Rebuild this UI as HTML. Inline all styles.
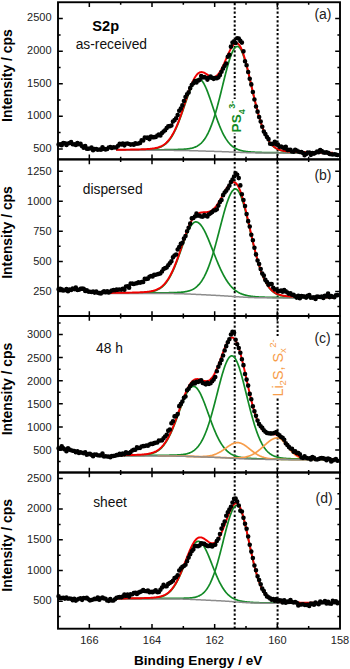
<!DOCTYPE html><html><head><meta charset="utf-8"><style>html,body{margin:0;padding:0;background:#fff;}svg{display:block;}text{font-family:"Liberation Sans",sans-serif;}</style></head><body>
<svg width="350" height="669" viewBox="0 0 350 669">
<rect width="350" height="669" fill="#fff"/>
<line x1="234.7" y1="3" x2="234.7" y2="628" stroke="#000" stroke-width="2" stroke-dasharray="2.2 2.1"/>
<line x1="277.6" y1="3" x2="277.6" y2="628" stroke="#000" stroke-width="2" stroke-dasharray="2.2 2.1"/>
<rect x="229" y="99" width="17" height="34.5" fill="#fff"/>
<rect x="268.5" y="336" width="19" height="62" fill="#fff"/>
<path d="M116,150.08 L116.5,150.07 L117,150.07 L117.5,150.07 L118,150.07 L118.5,150.07 L119,150.06 L119.5,150.06 L120,150.06 L120.5,150.06 L121,150.06 L121.5,150.05 L122,150.05 L122.5,150.05 L123,150.05 L123.5,150.05 L124,150.04 L124.5,150.04 L125,150.04 L125.5,150.04 L126,150.04 L126.5,150.03 L127,150.03 L127.5,150.03 L128,150.03 L128.5,150.02 L129,150.02 L129.5,150.02 L130,150.02 L130.5,150.01 L131,150.01 L131.5,150.01 L132,150.01 L132.5,150 L133,150 L133.5,150 L134,150 L134.5,149.99 L135,149.99 L135.5,149.99 L136,149.98 L136.5,149.98 L137,149.98 L137.5,149.98 L138,149.97 L138.5,149.97 L139,149.97 L139.5,149.96 L140,149.96 L140.5,149.96 L141,149.95 L141.5,149.95 L142,149.95 L142.5,149.94 L143,149.94 L143.5,149.94 L144,149.93 L144.5,149.93 L145,149.92 L145.5,149.92 L146,149.92 L146.5,149.91 L147,149.91 L147.5,149.9 L148,149.9 L148.5,149.9 L149,149.89 L149.5,149.89 L150,149.88 L150.5,149.88 L151,149.87 L151.5,149.87 L152,149.87 L152.5,149.86 L153,149.86 L153.5,149.85 L154,149.85 L154.5,149.84 L155,149.84 L155.5,149.83 L156,149.83 L156.5,149.82 L157,149.81 L157.5,149.81 L158,149.8 L158.5,149.8 L159,149.79 L159.5,149.79 L160,149.78 L160.5,149.77 L161,149.77 L161.5,149.76 L162,149.76 L162.5,149.75 L163,149.74 L163.5,149.74 L164,149.73 L164.5,149.72 L165,149.72 L165.5,149.71 L166,149.7 L166.5,149.7 L167,149.69 L167.5,149.68 L168,149.67 L168.5,149.67 L169,149.66 L169.5,149.65 L170,149.64 L170.5,149.63 L171,149.63 L171.5,149.62 L172,149.61 L172.5,149.6 L173,149.59 L173.5,149.58 L174,149.57 L174.5,149.56 L175,149.55 L175.5,149.54 L176,149.53 L176.5,149.51 L177,149.5 L177.5,149.49 L178,149.47 L178.5,149.46 L179,149.44 L179.5,149.43 L180,149.41 L180.5,149.39 L181,149.37 L181.5,149.35 L182,149.32 L182.5,149.3 L183,149.27 L183.5,149.24 L184,149.21 L184.5,149.17 L185,149.14 L185.5,149.09 L186,149.05 L186.5,149 L187,148.95 L187.5,148.89 L188,148.83 L188.5,148.76 L189,148.69 L189.5,148.61 L190,148.52 L190.5,148.42 L191,148.32 L191.5,148.21 L192,148.09 L192.5,147.95 L193,147.81 L193.5,147.66 L194,147.49 L194.5,147.31 L195,147.11 L195.5,146.9 L196,146.68 L196.5,146.43 L197,146.17 L197.5,145.89 L198,145.58 L198.5,145.26 L199,144.91 L199.5,144.54 L200,144.14 L200.5,143.72 L201,143.27 L201.5,142.79 L202,142.27 L202.5,141.73 L203,141.15 L203.5,140.54 L204,139.89 L204.5,139.21 L205,138.48 L205.5,137.72 L206,136.92 L206.5,136.07 L207,135.18 L207.5,134.25 L208,133.27 L208.5,132.25 L209,131.18 L209.5,130.07 L210,128.9 L210.5,127.69 L211,126.43 L211.5,125.12 L212,123.77 L212.5,122.37 L213,120.91 L213.5,119.41 L214,117.87 L214.5,116.28 L215,114.64 L215.5,112.96 L216,111.24 L216.5,109.48 L217,107.68 L217.5,105.85 L218,103.98 L218.5,102.08 L219,100.15 L219.5,98.19 L220,96.21 L220.5,94.21 L221,92.2 L221.5,90.17 L222,88.14 L222.5,86.1 L223,84.06 L223.5,82.03 L224,80 L224.5,77.99 L225,75.99 L225.5,74.02 L226,72.08 L226.5,70.17 L227,68.3 L227.5,66.47 L228,64.69 L228.5,62.97 L229,61.3 L229.5,59.7 L230,58.17 L230.5,56.71 L231,55.34 L231.5,54.04 L232,52.84 L232.5,51.73 L233,50.71 L233.5,49.8 L234,48.99 L234.5,48.29 L235,47.7 L235.5,47.22 L236,46.85 L236.5,46.61 L237,46.48 L237.5,46.46 L238,46.58 L238.5,46.82 L239,47.19 L239.5,47.68 L240,48.3 L240.5,49.05 L241,49.91 L241.5,50.88 L242,51.97 L242.5,53.17 L243,54.46 L243.5,55.86 L244,57.34 L244.5,58.92 L245,60.57 L245.5,62.3 L246,64.09 L246.5,65.95 L247,67.87 L247.5,69.84 L248,71.86 L248.5,73.91 L249,76 L249.5,78.11 L250,80.25 L250.5,82.4 L251,84.56 L251.5,86.73 L252,88.9 L252.5,91.06 L253,93.22 L253.5,95.36 L254,97.48 L254.5,99.58 L255,101.66 L255.5,103.71 L256,105.72 L256.5,107.7 L257,109.64 L257.5,111.53 L258,113.39 L258.5,115.2 L259,116.96 L259.5,118.68 L260,120.34 L260.5,121.95 L261,123.51 L261.5,125.02 L262,126.48 L262.5,127.88 L263,129.23 L263.5,130.53 L264,131.77 L264.5,132.96 L265,134.1 L265.5,135.19 L266,136.23 L266.5,137.21 L267,138.16 L267.5,139.05 L268,139.9 L268.5,140.7 L269,141.46 L269.5,142.18 L270,142.86 L270.5,143.5 L271,144.1 L271.5,144.67 L272,145.2 L272.5,145.7 L273,146.17 L273.5,146.61 L274,147.02 L274.5,147.41 L275,147.76 L275.5,148.1 L276,148.41 L276.5,148.7 L277,148.97 L277.5,149.22 L278,149.45 L278.5,149.67 L279,149.87 L279.5,150.06 L280,150.23 L280.5,150.39 L281,150.53 L281.5,150.67 L282,150.8 L282.5,150.91 L283,151.02 L283.5,151.12 L284,151.21 L284.5,151.3 L285,151.37 L285.5,151.45 L286,151.51 L286.5,151.58 L287,151.63 L287.5,151.69 L288,151.74 L288.5,151.78 L289,151.82 L289.5,151.86 L290,151.9 L290.5,151.94 L291,151.97 L291.5,152 L292,152.03 L292.5,152.05 L293,152.08 L293.5,152.1 L294,152.12 L294.5,152.14 L295,152.16 L295.5,152.18 L296,152.2 L296.5,152.22 L297,152.23 L297.5,152.25 L298,152.26 L298.5,152.28 L299,152.29 L299.5,152.31 L300,152.32 L300.5,152.33 L301,152.34 L301.5,152.36 L302,152.37 L302.5,152.38 L303,152.39 L303.5,152.4 L304,152.41 L304.5,152.42 L305,152.43 L305.5,152.44 L306,152.45 L306.5,152.46 L307,152.46 L307.5,152.47 L308,152.48 L308.5,152.49 L309,152.5 L309.5,152.5 L310,152.51 L310.5,152.52 L311,152.53 L311.5,152.53 L312,152.54 L312.5,152.55 L313,152.55 L313.5,152.56 L314,152.57 L314.5,152.57 L315,152.58 L315.5,152.59 L316,152.59 L316.5,152.6 L317,152.6 L317.5,152.61 L318,152.62 L318.5,152.62 L319,152.63 L319.5,152.63 L320,152.64 L320.5,152.64 L321,152.65 L321.5,152.65 L322,152.66 L322.5,152.66 L323,152.67 L323.5,152.67 L324,152.68 L324.5,152.68 L325,152.69 L325.5,152.69 L326,152.69 L326.5,152.7 L327,152.7 L327.5,152.71 L328,152.71 L328.5,152.72 L329,152.72 L329.5,152.72 L330,152.73 L330.5,152.73 L331,152.73 L331.5,152.74 L332,152.74 L332.5,152.74 L333,152.75" fill="none" stroke="#128a26" stroke-width="1.7" stroke-linejoin="round"/>
<path d="M116,150.01 L116.5,150 L117,150 L117.5,150 L118,149.99 L118.5,149.99 L119,149.99 L119.5,149.98 L120,149.98 L120.5,149.98 L121,149.97 L121.5,149.97 L122,149.96 L122.5,149.96 L123,149.95 L123.5,149.95 L124,149.95 L124.5,149.94 L125,149.94 L125.5,149.93 L126,149.93 L126.5,149.92 L127,149.92 L127.5,149.91 L128,149.91 L128.5,149.9 L129,149.9 L129.5,149.89 L130,149.88 L130.5,149.88 L131,149.87 L131.5,149.87 L132,149.86 L132.5,149.85 L133,149.85 L133.5,149.84 L134,149.83 L134.5,149.83 L135,149.82 L135.5,149.81 L136,149.8 L136.5,149.8 L137,149.79 L137.5,149.78 L138,149.77 L138.5,149.76 L139,149.75 L139.5,149.74 L140,149.73 L140.5,149.72 L141,149.7 L141.5,149.69 L142,149.68 L142.5,149.66 L143,149.65 L143.5,149.63 L144,149.62 L144.5,149.6 L145,149.58 L145.5,149.56 L146,149.54 L146.5,149.51 L147,149.49 L147.5,149.46 L148,149.43 L148.5,149.4 L149,149.36 L149.5,149.33 L150,149.29 L150.5,149.24 L151,149.2 L151.5,149.15 L152,149.09 L152.5,149.03 L153,148.97 L153.5,148.9 L154,148.83 L154.5,148.74 L155,148.66 L155.5,148.56 L156,148.46 L156.5,148.35 L157,148.23 L157.5,148.09 L158,147.95 L158.5,147.8 L159,147.64 L159.5,147.46 L160,147.27 L160.5,147.07 L161,146.85 L161.5,146.61 L162,146.36 L162.5,146.09 L163,145.8 L163.5,145.49 L164,145.16 L164.5,144.81 L165,144.44 L165.5,144.04 L166,143.61 L166.5,143.16 L167,142.69 L167.5,142.18 L168,141.65 L168.5,141.08 L169,140.49 L169.5,139.86 L170,139.2 L170.5,138.51 L171,137.78 L171.5,137.02 L172,136.22 L172.5,135.38 L173,134.52 L173.5,133.61 L174,132.67 L174.5,131.69 L175,130.68 L175.5,129.62 L176,128.54 L176.5,127.42 L177,126.26 L177.5,125.07 L178,123.85 L178.5,122.6 L179,121.31 L179.5,120 L180,118.67 L180.5,117.3 L181,115.92 L181.5,114.51 L182,113.09 L182.5,111.65 L183,110.2 L183.5,108.74 L184,107.27 L184.5,105.8 L185,104.33 L185.5,102.86 L186,101.4 L186.5,99.95 L187,98.52 L187.5,97.11 L188,95.71 L188.5,94.35 L189,93.01 L189.5,91.71 L190,90.45 L190.5,89.24 L191,88.07 L191.5,86.95 L192,85.89 L192.5,84.89 L193,83.95 L193.5,83.08 L194,82.29 L194.5,81.56 L195,80.91 L195.5,80.34 L196,79.86 L196.5,79.45 L197,79.14 L197.5,78.91 L198,78.77 L198.5,78.72 L199,78.76 L199.5,78.89 L200,79.11 L200.5,79.41 L201,79.81 L201.5,80.29 L202,80.85 L202.5,81.49 L203,82.21 L203.5,83.01 L204,83.88 L204.5,84.82 L205,85.82 L205.5,86.89 L206,88.01 L206.5,89.18 L207,90.41 L207.5,91.68 L208,92.99 L208.5,94.34 L209,95.72 L209.5,97.13 L210,98.56 L210.5,100.02 L211,101.49 L211.5,102.97 L212,104.46 L212.5,105.96 L213,107.46 L213.5,108.95 L214,110.44 L214.5,111.93 L215,113.4 L215.5,114.85 L216,116.29 L216.5,117.71 L217,119.11 L217.5,120.48 L218,121.83 L218.5,123.14 L219,124.43 L219.5,125.69 L220,126.92 L220.5,128.11 L221,129.27 L221.5,130.39 L222,131.48 L222.5,132.54 L223,133.55 L223.5,134.53 L224,135.48 L224.5,136.38 L225,137.25 L225.5,138.09 L226,138.89 L226.5,139.65 L227,140.38 L227.5,141.08 L228,141.74 L228.5,142.37 L229,142.97 L229.5,143.54 L230,144.08 L230.5,144.59 L231,145.08 L231.5,145.54 L232,145.97 L232.5,146.37 L233,146.76 L233.5,147.12 L234,147.46 L234.5,147.78 L235,148.08 L235.5,148.37 L236,148.63 L236.5,148.88 L237,149.11 L237.5,149.33 L238,149.53 L238.5,149.72 L239,149.9 L239.5,150.07 L240,150.23 L240.5,150.37 L241,150.51 L241.5,150.64 L242,150.76 L242.5,150.87 L243,150.97 L243.5,151.07 L244,151.16 L244.5,151.25 L245,151.33 L245.5,151.41 L246,151.48 L246.5,151.54 L247,151.6 L247.5,151.66 L248,151.72 L248.5,151.77 L249,151.82 L249.5,151.86 L250,151.91 L250.5,151.95 L251,151.99 L251.5,152.02 L252,152.06 L252.5,152.09 L253,152.12 L253.5,152.15 L254,152.18 L254.5,152.21 L255,152.23 L255.5,152.26 L256,152.28 L256.5,152.3 L257,152.32 L257.5,152.34 L258,152.36 L258.5,152.38 L259,152.4 L259.5,152.41 L260,152.43 L260.5,152.44 L261,152.46 L261.5,152.47 L262,152.49 L262.5,152.5 L263,152.51 L263.5,152.52 L264,152.53 L264.5,152.55 L265,152.56 L265.5,152.57 L266,152.58 L266.5,152.59 L267,152.6 L267.5,152.6 L268,152.61 L268.5,152.62 L269,152.63 L269.5,152.64 L270,152.64 L270.5,152.65 L271,152.66 L271.5,152.67 L272,152.67 L272.5,152.68 L273,152.68 L273.5,152.69 L274,152.7 L274.5,152.7 L275,152.71 L275.5,152.71 L276,152.72 L276.5,152.72 L277,152.73 L277.5,152.73 L278,152.74 L278.5,152.74 L279,152.75 L279.5,152.75 L280,152.75 L280.5,152.76 L281,152.76 L281.5,152.77 L282,152.77 L282.5,152.77 L283,152.78 L283.5,152.78 L284,152.79 L284.5,152.79 L285,152.79 L285.5,152.8 L286,152.8 L286.5,152.8 L287,152.81 L287.5,152.81 L288,152.81 L288.5,152.81 L289,152.82 L289.5,152.82 L290,152.82 L290.5,152.83 L291,152.83 L291.5,152.83 L292,152.83 L292.5,152.84 L293,152.84 L293.5,152.84 L294,152.84 L294.5,152.85 L295,152.85 L295.5,152.85 L296,152.85 L296.5,152.86 L297,152.86 L297.5,152.86 L298,152.86 L298.5,152.87 L299,152.87 L299.5,152.87 L300,152.87 L300.5,152.87 L301,152.88 L301.5,152.88 L302,152.88 L302.5,152.88 L303,152.88 L303.5,152.89 L304,152.89 L304.5,152.89 L305,152.89 L305.5,152.89 L306,152.9 L306.5,152.9 L307,152.9 L307.5,152.9 L308,152.9 L308.5,152.9 L309,152.91 L309.5,152.91 L310,152.91 L310.5,152.91 L311,152.91 L311.5,152.91 L312,152.92 L312.5,152.92 L313,152.92 L313.5,152.92 L314,152.92 L314.5,152.92 L315,152.92 L315.5,152.93 L316,152.93 L316.5,152.93 L317,152.93 L317.5,152.93 L318,152.93 L318.5,152.93 L319,152.93 L319.5,152.94 L320,152.94 L320.5,152.94 L321,152.94 L321.5,152.94 L322,152.94 L322.5,152.94 L323,152.94 L323.5,152.95 L324,152.95 L324.5,152.95 L325,152.95 L325.5,152.95 L326,152.95 L326.5,152.95 L327,152.95 L327.5,152.95 L328,152.96 L328.5,152.96 L329,152.96 L329.5,152.96 L330,152.96 L330.5,152.96 L331,152.96 L331.5,152.96 L332,152.96 L332.5,152.96 L333,152.97" fill="none" stroke="#128a26" stroke-width="1.7" stroke-linejoin="round"/>
<path d="M116,150.3 L116.5,150.3 L117,150.3 L117.5,150.3 L118,150.3 L118.5,150.3 L119,150.3 L119.5,150.3 L120,150.3 L120.5,150.3 L121,150.3 L121.5,150.3 L122,150.3 L122.5,150.3 L123,150.3 L123.5,150.3 L124,150.3 L124.5,150.31 L125,150.31 L125.5,150.31 L126,150.31 L126.5,150.31 L127,150.31 L127.5,150.31 L128,150.31 L128.5,150.31 L129,150.31 L129.5,150.31 L130,150.31 L130.5,150.31 L131,150.31 L131.5,150.31 L132,150.31 L132.5,150.31 L133,150.31 L133.5,150.31 L134,150.31 L134.5,150.31 L135,150.31 L135.5,150.31 L136,150.31 L136.5,150.31 L137,150.31 L137.5,150.31 L138,150.31 L138.5,150.31 L139,150.31 L139.5,150.31 L140,150.31 L140.5,150.31 L141,150.31 L141.5,150.31 L142,150.31 L142.5,150.31 L143,150.31 L143.5,150.31 L144,150.31 L144.5,150.31 L145,150.31 L145.5,150.31 L146,150.31 L146.5,150.31 L147,150.31 L147.5,150.31 L148,150.31 L148.5,150.31 L149,150.31 L149.5,150.31 L150,150.31 L150.5,150.31 L151,150.32 L151.5,150.32 L152,150.32 L152.5,150.32 L153,150.32 L153.5,150.32 L154,150.32 L154.5,150.32 L155,150.32 L155.5,150.32 L156,150.32 L156.5,150.32 L157,150.32 L157.5,150.32 L158,150.32 L158.5,150.32 L159,150.32 L159.5,150.32 L160,150.32 L160.5,150.32 L161,150.33 L161.5,150.33 L162,150.33 L162.5,150.33 L163,150.33 L163.5,150.33 L164,150.33 L164.5,150.33 L165,150.33 L165.5,150.34 L166,150.34 L166.5,150.34 L167,150.34 L167.5,150.34 L168,150.34 L168.5,150.35 L169,150.35 L169.5,150.35 L170,150.35 L170.5,150.36 L171,150.36 L171.5,150.36 L172,150.36 L172.5,150.37 L173,150.37 L173.5,150.37 L174,150.38 L174.5,150.38 L175,150.39 L175.5,150.39 L176,150.4 L176.5,150.4 L177,150.41 L177.5,150.41 L178,150.42 L178.5,150.42 L179,150.43 L179.5,150.43 L180,150.44 L180.5,150.45 L181,150.46 L181.5,150.46 L182,150.47 L182.5,150.48 L183,150.49 L183.5,150.5 L184,150.51 L184.5,150.51 L185,150.52 L185.5,150.53 L186,150.54 L186.5,150.55 L187,150.57 L187.5,150.58 L188,150.59 L188.5,150.6 L189,150.61 L189.5,150.63 L190,150.64 L190.5,150.65 L191,150.66 L191.5,150.68 L192,150.69 L192.5,150.71 L193,150.72 L193.5,150.73 L194,150.75 L194.5,150.76 L195,150.78 L195.5,150.79 L196,150.81 L196.5,150.82 L197,150.84 L197.5,150.86 L198,150.87 L198.5,150.89 L199,150.9 L199.5,150.92 L200,150.94 L200.5,150.95 L201,150.97 L201.5,150.98 L202,151 L202.5,151.02 L203,151.03 L203.5,151.05 L204,151.06 L204.5,151.08 L205,151.1 L205.5,151.11 L206,151.13 L206.5,151.14 L207,151.16 L207.5,151.17 L208,151.19 L208.5,151.21 L209,151.22 L209.5,151.24 L210,151.25 L210.5,151.27 L211,151.28 L211.5,151.3 L212,151.31 L212.5,151.33 L213,151.34 L213.5,151.36 L214,151.37 L214.5,151.39 L215,151.4 L215.5,151.42 L216,151.43 L216.5,151.45 L217,151.47 L217.5,151.48 L218,151.5 L218.5,151.51 L219,151.53 L219.5,151.54 L220,151.56 L220.5,151.58 L221,151.59 L221.5,151.61 L222,151.63 L222.5,151.65 L223,151.66 L223.5,151.68 L224,151.7 L224.5,151.72 L225,151.74 L225.5,151.75 L226,151.77 L226.5,151.79 L227,151.81 L227.5,151.83 L228,151.85 L228.5,151.87 L229,151.89 L229.5,151.91 L230,151.93 L230.5,151.95 L231,151.97 L231.5,152 L232,152.02 L232.5,152.04 L233,152.06 L233.5,152.08 L234,152.1 L234.5,152.13 L235,152.15 L235.5,152.17 L236,152.19 L236.5,152.22 L237,152.24 L237.5,152.26 L238,152.28 L238.5,152.3 L239,152.33 L239.5,152.35 L240,152.37 L240.5,152.39 L241,152.41 L241.5,152.43 L242,152.45 L242.5,152.47 L243,152.5 L243.5,152.52 L244,152.54 L244.5,152.55 L245,152.57 L245.5,152.59 L246,152.61 L246.5,152.63 L247,152.65 L247.5,152.66 L248,152.68 L248.5,152.7 L249,152.71 L249.5,152.73 L250,152.74 L250.5,152.76 L251,152.77 L251.5,152.79 L252,152.8 L252.5,152.81 L253,152.82 L253.5,152.84 L254,152.85 L254.5,152.86 L255,152.87 L255.5,152.88 L256,152.89 L256.5,152.9 L257,152.91 L257.5,152.92 L258,152.92 L258.5,152.93 L259,152.94 L259.5,152.95 L260,152.95 L260.5,152.96 L261,152.97 L261.5,152.97 L262,152.98 L262.5,152.98 L263,152.99 L263.5,152.99 L264,153 L264.5,153 L265,153 L265.5,153.01 L266,153.01 L266.5,153.02 L267,153.02 L267.5,153.02 L268,153.02 L268.5,153.03 L269,153.03 L269.5,153.03 L270,153.03 L270.5,153.04 L271,153.04 L271.5,153.04 L272,153.04 L272.5,153.04 L273,153.04 L273.5,153.05 L274,153.05 L274.5,153.05 L275,153.05 L275.5,153.05 L276,153.05 L276.5,153.05 L277,153.05 L277.5,153.05 L278,153.06 L278.5,153.06 L279,153.06 L279.5,153.06 L280,153.06 L280.5,153.06 L281,153.06 L281.5,153.06 L282,153.06 L282.5,153.06 L283,153.06 L283.5,153.06 L284,153.06 L284.5,153.06 L285,153.06 L285.5,153.06 L286,153.06 L286.5,153.06 L287,153.06 L287.5,153.06 L288,153.07 L288.5,153.07 L289,153.07 L289.5,153.07 L290,153.07 L290.5,153.07 L291,153.07 L291.5,153.07 L292,153.07 L292.5,153.07 L293,153.07 L293.5,153.07 L294,153.07 L294.5,153.07 L295,153.07 L295.5,153.07 L296,153.07 L296.5,153.07 L297,153.07 L297.5,153.07 L298,153.07 L298.5,153.07 L299,153.07 L299.5,153.07 L300,153.07 L300.5,153.07 L301,153.07 L301.5,153.07 L302,153.07 L302.5,153.07 L303,153.07 L303.5,153.07 L304,153.07 L304.5,153.07 L305,153.07 L305.5,153.07 L306,153.07 L306.5,153.07 L307,153.07 L307.5,153.07 L308,153.07 L308.5,153.07 L309,153.07 L309.5,153.07 L310,153.07 L310.5,153.07 L311,153.07 L311.5,153.07 L312,153.07 L312.5,153.08 L313,153.08 L313.5,153.08 L314,153.08 L314.5,153.08 L315,153.08 L315.5,153.08 L316,153.08 L316.5,153.08 L317,153.08 L317.5,153.08 L318,153.08 L318.5,153.08 L319,153.08 L319.5,153.08 L320,153.08 L320.5,153.08 L321,153.08 L321.5,153.08 L322,153.08 L322.5,153.08 L323,153.08 L323.5,153.08 L324,153.08 L324.5,153.08 L325,153.08 L325.5,153.08 L326,153.08 L326.5,153.08 L327,153.08 L327.5,153.08 L328,153.08 L328.5,153.08 L329,153.08 L329.5,153.08 L330,153.08 L330.5,153.08 L331,153.08 L331.5,153.08 L332,153.08 L332.5,153.08 L333,153.08" fill="none" stroke="#8c8c8c" stroke-width="1.5"/>
<path d="M116,149.78 L116.5,149.77 L117,149.77 L117.5,149.76 L118,149.76 L118.5,149.75 L119,149.75 L119.5,149.74 L120,149.74 L120.5,149.73 L121,149.72 L121.5,149.72 L122,149.71 L122.5,149.7 L123,149.7 L123.5,149.69 L124,149.69 L124.5,149.68 L125,149.67 L125.5,149.66 L126,149.66 L126.5,149.65 L127,149.64 L127.5,149.64 L128,149.63 L128.5,149.62 L129,149.61 L129.5,149.6 L130,149.6 L130.5,149.59 L131,149.58 L131.5,149.57 L132,149.56 L132.5,149.55 L133,149.54 L133.5,149.53 L134,149.52 L134.5,149.51 L135,149.5 L135.5,149.49 L136,149.48 L136.5,149.47 L137,149.46 L137.5,149.44 L138,149.43 L138.5,149.42 L139,149.41 L139.5,149.39 L140,149.38 L140.5,149.36 L141,149.35 L141.5,149.33 L142,149.31 L142.5,149.3 L143,149.28 L143.5,149.26 L144,149.24 L144.5,149.21 L145,149.19 L145.5,149.17 L146,149.14 L146.5,149.11 L147,149.08 L147.5,149.05 L148,149.02 L148.5,148.98 L149,148.94 L149.5,148.9 L150,148.86 L150.5,148.81 L151,148.76 L151.5,148.7 L152,148.64 L152.5,148.58 L153,148.51 L153.5,148.43 L154,148.35 L154.5,148.27 L155,148.17 L155.5,148.07 L156,147.96 L156.5,147.85 L157,147.72 L157.5,147.58 L158,147.44 L158.5,147.28 L159,147.11 L159.5,146.93 L160,146.73 L160.5,146.52 L161,146.29 L161.5,146.05 L162,145.79 L162.5,145.51 L163,145.22 L163.5,144.9 L164,144.56 L164.5,144.2 L165,143.82 L165.5,143.41 L166,142.98 L166.5,142.52 L167,142.03 L167.5,141.52 L168,140.98 L168.5,140.4 L169,139.8 L169.5,139.16 L170,138.49 L170.5,137.78 L171,137.04 L171.5,136.27 L172,135.46 L172.5,134.62 L173,133.73 L173.5,132.82 L174,131.86 L174.5,130.87 L175,129.84 L175.5,128.77 L176,127.67 L176.5,126.53 L177,125.36 L177.5,124.15 L178,122.91 L178.5,121.64 L179,120.33 L179.5,119 L180,117.63 L180.5,116.25 L181,114.83 L181.5,113.4 L182,111.94 L182.5,110.47 L183,108.98 L183.5,107.48 L184,105.97 L184.5,104.46 L185,102.94 L185.5,101.42 L186,99.91 L186.5,98.4 L187,96.9 L187.5,95.42 L188,93.95 L188.5,92.51 L189,91.09 L189.5,89.69 L190,88.33 L190.5,87.01 L191,85.73 L191.5,84.48 L192,83.29 L192.5,82.14 L193,81.05 L193.5,80.01 L194,79.03 L194.5,78.11 L195,77.25 L195.5,76.45 L196,75.72 L196.5,75.06 L197,74.47 L197.5,73.94 L198,73.48 L198.5,73.09 L199,72.77 L199.5,72.51 L200,72.31 L200.5,72.18 L201,72.11 L201.5,72.09 L202,72.12 L202.5,72.2 L203,72.33 L203.5,72.5 L204,72.71 L204.5,72.94 L205,73.21 L205.5,73.49 L206,73.8 L206.5,74.11 L207,74.43 L207.5,74.75 L208,75.07 L208.5,75.38 L209,75.68 L209.5,75.96 L210,76.21 L210.5,76.44 L211,76.64 L211.5,76.8 L212,76.92 L212.5,77 L213,77.03 L213.5,77.01 L214,76.94 L214.5,76.82 L215,76.64 L215.5,76.4 L216,76.1 L216.5,75.74 L217,75.32 L217.5,74.85 L218,74.31 L218.5,73.71 L219,73.05 L219.5,72.34 L220,71.57 L220.5,70.75 L221,69.88 L221.5,68.96 L222,67.99 L222.5,66.99 L223,65.95 L223.5,64.88 L224,63.78 L224.5,62.65 L225,61.51 L225.5,60.36 L226,59.19 L226.5,58.03 L227,56.87 L227.5,55.72 L228,54.58 L228.5,53.47 L229,52.38 L229.5,51.33 L230,50.32 L230.5,49.35 L231,48.44 L231.5,47.58 L232,46.79 L232.5,46.06 L233,45.41 L233.5,44.84 L234,44.35 L234.5,43.94 L235,43.63 L235.5,43.41 L236,43.29 L236.5,43.27 L237,43.35 L237.5,43.53 L238,43.83 L238.5,44.24 L239,44.76 L239.5,45.41 L240,46.16 L240.5,47.03 L241,48.01 L241.5,49.09 L242,50.28 L242.5,51.56 L243,52.94 L243.5,54.41 L244,55.97 L244.5,57.61 L245,59.33 L245.5,61.11 L246,62.96 L246.5,64.87 L247,66.83 L247.5,68.84 L248,70.89 L248.5,72.98 L249,75.1 L249.5,77.25 L250,79.41 L250.5,81.59 L251,83.78 L251.5,85.97 L252,88.16 L252.5,90.34 L253,92.52 L253.5,94.67 L254,96.81 L254.5,98.93 L255,101.02 L255.5,103.08 L256,105.11 L256.5,107.1 L257,109.05 L257.5,110.96 L258,112.83 L258.5,114.65 L259,116.42 L259.5,118.14 L260,119.82 L260.5,121.44 L261,123.01 L261.5,124.52 L262,125.99 L262.5,127.4 L263,128.75 L263.5,130.06 L264,131.31 L264.5,132.51 L265,133.65 L265.5,134.75 L266,135.79 L266.5,136.79 L267,137.73 L267.5,138.63 L268,139.49 L268.5,140.3 L269,141.06 L269.5,141.79 L270,142.47 L270.5,143.12 L271,143.72 L271.5,144.3 L272,144.83 L272.5,145.34 L273,145.81 L273.5,146.26 L274,146.67 L274.5,147.06 L275,147.42 L275.5,147.76 L276,148.08 L276.5,148.37 L277,148.64 L277.5,148.9 L278,149.14 L278.5,149.36 L279,149.56 L279.5,149.75 L280,149.92 L280.5,150.09 L281,150.24 L281.5,150.38 L282,150.51 L282.5,150.63 L283,150.74 L283.5,150.84 L284,150.93 L284.5,151.02 L285,151.1 L285.5,151.18 L286,151.25 L286.5,151.31 L287,151.37 L287.5,151.43 L288,151.48 L288.5,151.53 L289,151.58 L289.5,151.62 L290,151.66 L290.5,151.7 L291,151.73 L291.5,151.76 L292,151.79 L292.5,151.82 L293,151.85 L293.5,151.88 L294,151.9 L294.5,151.92 L295,151.94 L295.5,151.97 L296,151.99 L296.5,152.01 L297,152.02 L297.5,152.04 L298,152.06 L298.5,152.08 L299,152.09 L299.5,152.11 L300,152.12 L300.5,152.14 L301,152.15 L301.5,152.16 L302,152.18 L302.5,152.19 L303,152.2 L303.5,152.21 L304,152.22 L304.5,152.24 L305,152.25 L305.5,152.26 L306,152.27 L306.5,152.28 L307,152.29 L307.5,152.3 L308,152.31 L308.5,152.32 L309,152.33 L309.5,152.34 L310,152.35 L310.5,152.36 L311,152.36 L311.5,152.37 L312,152.38 L312.5,152.39 L313,152.4 L313.5,152.41 L314,152.41 L314.5,152.42 L315,152.43 L315.5,152.44 L316,152.44 L316.5,152.45 L317,152.46 L317.5,152.47 L318,152.47 L318.5,152.48 L319,152.49 L319.5,152.49 L320,152.5 L320.5,152.5 L321,152.51 L321.5,152.52 L322,152.52 L322.5,152.53 L323,152.53 L323.5,152.54 L324,152.55 L324.5,152.55 L325,152.56 L325.5,152.56 L326,152.57 L326.5,152.57 L327,152.58 L327.5,152.58 L328,152.59 L328.5,152.59 L329,152.6 L329.5,152.6 L330,152.61 L330.5,152.61 L331,152.62 L331.5,152.62 L332,152.63 L332.5,152.63 L333,152.63" fill="none" stroke="#f00000" stroke-width="1.95" stroke-linejoin="round"/>
<path d="M58.6,144.48h0M60.17,144.39h0M61.73,145.17h0M63.3,143.15h0M64.87,143.21h0M66.43,145h0M68,143.62h0M69.57,143.05h0M71.13,142.17h0M72.7,144.21h0M74.27,144.33h0M75.83,144.98h0M77.4,143.16h0M78.97,144.18h0M80.53,143.85h0M82.1,146.28h0M83.67,147.65h0M85.23,145.95h0M86.8,148.66h0M88.37,148.77h0M89.93,148.46h0M91.5,147.43h0M93.07,150.17h0M94.63,149.08h0M96.2,149.08h0M97.77,149.68h0M99.33,149.51h0M100.9,149.66h0M102.47,147.27h0M104.03,148.87h0M105.6,149.44h0M107.17,149.06h0M108.73,147.5h0M110.3,146.96h0M111.87,147.93h0M113.43,147.28h0M115,147.53h0M116.57,147.33h0M118.13,145.75h0M119.7,143.72h0M121.27,144.56h0M122.83,143.6h0M124.4,145.36h0M125.97,143.82h0M127.53,143.55h0M129.1,143.97h0M130.67,144.58h0M132.23,144.22h0M133.8,144.76h0M135.37,143.24h0M136.93,143.7h0M138.5,143.57h0M140.07,142.92h0M141.63,140.3h0M143.2,140.44h0M144.77,137.59h0M146.33,137.78h0M147.9,137.63h0M149.47,139.09h0M151.03,136.57h0M152.6,137.16h0M154.17,137.13h0M155.73,137.05h0M157.3,135.59h0M158.87,134.45h0M160.43,135.4h0M162,132.94h0M163.57,131.5h0M165.13,130.24h0M166.7,128.04h0M168.27,126.31h0M169.83,126.17h0M171.4,125.5h0M172.97,121.49h0M174.53,120.13h0M176.1,118.31h0M177.67,115.02h0M179.23,110.73h0M180.8,108.65h0M182.37,105.38h0M183.93,101.05h0M185.5,97.03h0M187.07,94.22h0M188.63,92.4h0M190.2,88.15h0M191.77,85.05h0M193.33,83.36h0M194.9,81.03h0M196.47,82.49h0M198.03,80.69h0M199.6,79.87h0M201.17,75.95h0M202.73,77.44h0M204.3,77.16h0M205.87,77.68h0M207.43,79.61h0M209,77.78h0M210.57,76.43h0M212.13,77.91h0M213.7,78.87h0M215.27,78.02h0M216.83,78.23h0M218.4,77.37h0M219.97,75.11h0M221.53,71.73h0M223.1,68.61h0M224.67,65.87h0M226.23,63.56h0M227.8,56.78h0M229.37,54.86h0M230.93,46.65h0M232.5,42.46h0M234.07,41.41h0M235.63,43.05h0M237.2,38.31h0M238.77,38.54h0M240.33,40.92h0M241.9,42.61h0M243.47,51.34h0M245.03,61.22h0M246.6,65.18h0M248.17,71.98h0M249.73,78.82h0M251.3,84.38h0M252.87,92h0M254.43,99.43h0M256,106.46h0M257.57,111.67h0M259.13,116.94h0M260.7,121.47h0M262.27,126.71h0M263.83,131.61h0M265.4,134.15h0M266.97,137.05h0M268.53,139.15h0M270.1,143.77h0M271.67,144.03h0M273.23,143.79h0M274.8,141.82h0M276.37,144.56h0M277.93,144.56h0M279.5,146.85h0M281.07,146.52h0M282.63,147.28h0M284.2,148.31h0M285.77,146.72h0M287.33,149.84h0M288.9,149.78h0M290.47,149.68h0M292.03,151.44h0M293.6,151.63h0M295.17,149.73h0M296.73,150.49h0M298.3,151.52h0M299.87,152h0M301.43,152.04h0M303,152.98h0M304.57,155.24h0M306.13,154.04h0M307.7,152.46h0M309.27,152.46h0M310.83,154.84h0M312.4,153.15h0M313.97,153.61h0M315.53,152.79h0M317.1,151.65h0M318.67,152.13h0M320.23,149.99h0M321.8,151.1h0M323.37,152.38h0M324.93,152.66h0M326.5,152.42h0M328.07,152.89h0M329.63,153.89h0M331.2,154.29h0M332.77,154.54h0M334.33,154.23h0M335.9,154.6h0M337.47,155h0" stroke="#000" stroke-width="4.6" stroke-linecap="round" fill="none"/>
<path d="M102,293.24 L102.5,293.24 L103,293.24 L103.5,293.24 L104,293.24 L104.5,293.24 L105,293.23 L105.5,293.23 L106,293.23 L106.5,293.23 L107,293.23 L107.5,293.23 L108,293.22 L108.5,293.22 L109,293.22 L109.5,293.22 L110,293.22 L110.5,293.22 L111,293.21 L111.5,293.21 L112,293.21 L112.5,293.21 L113,293.21 L113.5,293.2 L114,293.2 L114.5,293.2 L115,293.2 L115.5,293.2 L116,293.2 L116.5,293.19 L117,293.19 L117.5,293.19 L118,293.19 L118.5,293.18 L119,293.18 L119.5,293.18 L120,293.18 L120.5,293.18 L121,293.17 L121.5,293.17 L122,293.17 L122.5,293.17 L123,293.16 L123.5,293.16 L124,293.16 L124.5,293.16 L125,293.15 L125.5,293.15 L126,293.15 L126.5,293.15 L127,293.14 L127.5,293.14 L128,293.14 L128.5,293.14 L129,293.13 L129.5,293.13 L130,293.13 L130.5,293.12 L131,293.12 L131.5,293.12 L132,293.12 L132.5,293.11 L133,293.11 L133.5,293.11 L134,293.1 L134.5,293.1 L135,293.1 L135.5,293.09 L136,293.09 L136.5,293.09 L137,293.08 L137.5,293.08 L138,293.08 L138.5,293.07 L139,293.07 L139.5,293.06 L140,293.06 L140.5,293.06 L141,293.05 L141.5,293.05 L142,293.04 L142.5,293.04 L143,293.04 L143.5,293.03 L144,293.03 L144.5,293.02 L145,293.02 L145.5,293.01 L146,293.01 L146.5,293.01 L147,293 L147.5,293 L148,292.99 L148.5,292.99 L149,292.98 L149.5,292.98 L150,292.97 L150.5,292.97 L151,292.96 L151.5,292.96 L152,292.95 L152.5,292.94 L153,292.94 L153.5,292.93 L154,292.93 L154.5,292.92 L155,292.92 L155.5,292.91 L156,292.9 L156.5,292.9 L157,292.89 L157.5,292.89 L158,292.88 L158.5,292.87 L159,292.87 L159.5,292.86 L160,292.85 L160.5,292.85 L161,292.84 L161.5,292.83 L162,292.83 L162.5,292.82 L163,292.81 L163.5,292.81 L164,292.8 L164.5,292.79 L165,292.78 L165.5,292.78 L166,292.77 L166.5,292.76 L167,292.75 L167.5,292.74 L168,292.73 L168.5,292.73 L169,292.72 L169.5,292.71 L170,292.7 L170.5,292.69 L171,292.68 L171.5,292.66 L172,292.65 L172.5,292.64 L173,292.63 L173.5,292.61 L174,292.6 L174.5,292.58 L175,292.57 L175.5,292.55 L176,292.53 L176.5,292.51 L177,292.49 L177.5,292.47 L178,292.44 L178.5,292.41 L179,292.39 L179.5,292.35 L180,292.32 L180.5,292.28 L181,292.24 L181.5,292.2 L182,292.15 L182.5,292.1 L183,292.04 L183.5,291.98 L184,291.92 L184.5,291.85 L185,291.77 L185.5,291.69 L186,291.6 L186.5,291.5 L187,291.39 L187.5,291.28 L188,291.15 L188.5,291.02 L189,290.87 L189.5,290.72 L190,290.55 L190.5,290.37 L191,290.17 L191.5,289.96 L192,289.74 L192.5,289.5 L193,289.24 L193.5,288.96 L194,288.66 L194.5,288.35 L195,288.01 L195.5,287.65 L196,287.27 L196.5,286.86 L197,286.43 L197.5,285.97 L198,285.48 L198.5,284.97 L199,284.42 L199.5,283.84 L200,283.23 L200.5,282.59 L201,281.92 L201.5,281.2 L202,280.46 L202.5,279.67 L203,278.85 L203.5,277.99 L204,277.09 L204.5,276.14 L205,275.16 L205.5,274.14 L206,273.07 L206.5,271.96 L207,270.81 L207.5,269.61 L208,268.38 L208.5,267.09 L209,265.77 L209.5,264.4 L210,262.99 L210.5,261.54 L211,260.05 L211.5,258.52 L212,256.95 L212.5,255.34 L213,253.69 L213.5,252.01 L214,250.29 L214.5,248.54 L215,246.76 L215.5,244.96 L216,243.13 L216.5,241.27 L217,239.4 L217.5,237.5 L218,235.59 L218.5,233.68 L219,231.75 L219.5,229.81 L220,227.88 L220.5,225.95 L221,224.02 L221.5,222.1 L222,220.2 L222.5,218.31 L223,216.45 L223.5,214.61 L224,212.8 L224.5,211.03 L225,209.29 L225.5,207.6 L226,205.96 L226.5,204.37 L227,202.83 L227.5,201.36 L228,199.95 L228.5,198.61 L229,197.34 L229.5,196.15 L230,195.05 L230.5,194.02 L231,193.08 L231.5,192.24 L232,191.49 L232.5,190.83 L233,190.28 L233.5,189.82 L234,189.47 L234.5,189.22 L235,189.07 L235.5,189.03 L236,189.11 L236.5,189.31 L237,189.63 L237.5,190.08 L238,190.65 L238.5,191.34 L239,192.15 L239.5,193.07 L240,194.1 L240.5,195.24 L241,196.48 L241.5,197.82 L242,199.26 L242.5,200.78 L243,202.38 L243.5,204.06 L244,205.81 L244.5,207.63 L245,209.51 L245.5,211.44 L246,213.42 L246.5,215.44 L247,217.5 L247.5,219.59 L248,221.71 L248.5,223.85 L249,226 L249.5,228.17 L250,230.33 L250.5,232.5 L251,234.67 L251.5,236.82 L252,238.96 L252.5,241.09 L253,243.19 L253.5,245.26 L254,247.31 L254.5,249.33 L255,251.31 L255.5,253.26 L256,255.16 L256.5,257.03 L257,258.85 L257.5,260.62 L258,262.34 L258.5,264.02 L259,265.65 L259.5,267.23 L260,268.75 L260.5,270.23 L261,271.65 L261.5,273.02 L262,274.34 L262.5,275.6 L263,276.82 L263.5,277.98 L264,279.1 L264.5,280.16 L265,281.18 L265.5,282.14 L266,283.06 L266.5,283.94 L267,284.77 L267.5,285.56 L268,286.31 L268.5,287.01 L269,287.68 L269.5,288.31 L270,288.9 L270.5,289.46 L271,289.99 L271.5,290.48 L272,290.95 L272.5,291.38 L273,291.79 L273.5,292.17 L274,292.53 L274.5,292.86 L275,293.17 L275.5,293.46 L276,293.73 L276.5,293.98 L277,294.21 L277.5,294.43 L278,294.63 L278.5,294.82 L279,294.99 L279.5,295.15 L280,295.3 L280.5,295.44 L281,295.57 L281.5,295.68 L282,295.79 L282.5,295.9 L283,295.99 L283.5,296.08 L284,296.16 L284.5,296.23 L285,296.3 L285.5,296.36 L286,296.42 L286.5,296.48 L287,296.53 L287.5,296.58 L288,296.62 L288.5,296.66 L289,296.7 L289.5,296.74 L290,296.77 L290.5,296.8 L291,296.83 L291.5,296.86 L292,296.89 L292.5,296.91 L293,296.93 L293.5,296.96 L294,296.98 L294.5,297 L295,297.01 L295.5,297.03 L296,297.05 L296.5,297.07 L297,297.08 L297.5,297.1 L298,297.11 L298.5,297.12 L299,297.14 L299.5,297.15 L300,297.16 L300.5,297.18 L301,297.19 L301.5,297.2 L302,297.21 L302.5,297.22 L303,297.23 L303.5,297.24 L304,297.25 L304.5,297.26 L305,297.27 L305.5,297.28 L306,297.29 L306.5,297.3 L307,297.31 L307.5,297.31 L308,297.32 L308.5,297.33 L309,297.34 L309.5,297.35 L310,297.35 L310.5,297.36 L311,297.37 L311.5,297.38 L312,297.38 L312.5,297.39 L313,297.4 L313.5,297.4 L314,297.41 L314.5,297.42 L315,297.42 L315.5,297.43 L316,297.43 L316.5,297.44 L317,297.45 L317.5,297.45 L318,297.46 L318.5,297.46 L319,297.47 L319.5,297.47 L320,297.48 L320.5,297.48 L321,297.49 L321.5,297.49 L322,297.5 L322.5,297.5 L323,297.51 L323.5,297.51 L324,297.52 L324.5,297.52 L325,297.53 L325.5,297.53 L326,297.54 L326.5,297.54 L327,297.55 L327.5,297.55 L328,297.55 L328.5,297.56 L329,297.56 L329.5,297.57 L330,297.57 L330.5,297.57 L331,297.58 L331.5,297.58 L332,297.58 L332.5,297.59 L333,297.59" fill="none" stroke="#128a26" stroke-width="1.7" stroke-linejoin="round"/>
<path d="M102,293.21 L102.5,293.21 L103,293.21 L103.5,293.21 L104,293.2 L104.5,293.2 L105,293.2 L105.5,293.2 L106,293.19 L106.5,293.19 L107,293.19 L107.5,293.18 L108,293.18 L108.5,293.18 L109,293.18 L109.5,293.17 L110,293.17 L110.5,293.17 L111,293.16 L111.5,293.16 L112,293.16 L112.5,293.15 L113,293.15 L113.5,293.15 L114,293.14 L114.5,293.14 L115,293.14 L115.5,293.13 L116,293.13 L116.5,293.12 L117,293.12 L117.5,293.12 L118,293.11 L118.5,293.11 L119,293.1 L119.5,293.1 L120,293.1 L120.5,293.09 L121,293.09 L121.5,293.08 L122,293.08 L122.5,293.07 L123,293.07 L123.5,293.06 L124,293.06 L124.5,293.05 L125,293.05 L125.5,293.04 L126,293.03 L126.5,293.03 L127,293.02 L127.5,293.02 L128,293.01 L128.5,293 L129,293 L129.5,292.99 L130,292.98 L130.5,292.98 L131,292.97 L131.5,292.96 L132,292.95 L132.5,292.94 L133,292.94 L133.5,292.93 L134,292.92 L134.5,292.91 L135,292.9 L135.5,292.89 L136,292.88 L136.5,292.86 L137,292.85 L137.5,292.84 L138,292.82 L138.5,292.81 L139,292.79 L139.5,292.78 L140,292.76 L140.5,292.74 L141,292.72 L141.5,292.7 L142,292.68 L142.5,292.65 L143,292.63 L143.5,292.6 L144,292.57 L144.5,292.54 L145,292.5 L145.5,292.47 L146,292.43 L146.5,292.38 L147,292.34 L147.5,292.29 L148,292.23 L148.5,292.17 L149,292.11 L149.5,292.04 L150,291.97 L150.5,291.88 L151,291.8 L151.5,291.7 L152,291.6 L152.5,291.49 L153,291.38 L153.5,291.25 L154,291.11 L154.5,290.97 L155,290.81 L155.5,290.64 L156,290.46 L156.5,290.26 L157,290.05 L157.5,289.82 L158,289.58 L158.5,289.33 L159,289.05 L159.5,288.76 L160,288.45 L160.5,288.12 L161,287.76 L161.5,287.39 L162,286.99 L162.5,286.56 L163,286.12 L163.5,285.64 L164,285.14 L164.5,284.62 L165,284.06 L165.5,283.48 L166,282.86 L166.5,282.21 L167,281.54 L167.5,280.83 L168,280.09 L168.5,279.31 L169,278.5 L169.5,277.66 L170,276.79 L170.5,275.88 L171,274.93 L171.5,273.95 L172,272.94 L172.5,271.9 L173,270.82 L173.5,269.71 L174,268.57 L174.5,267.39 L175,266.19 L175.5,264.96 L176,263.7 L176.5,262.42 L177,261.11 L177.5,259.78 L178,258.44 L178.5,257.07 L179,255.68 L179.5,254.29 L180,252.88 L180.5,251.47 L181,250.05 L181.5,248.62 L182,247.2 L182.5,245.78 L183,244.37 L183.5,242.97 L184,241.59 L184.5,240.22 L185,238.87 L185.5,237.55 L186,236.26 L186.5,235 L187,233.78 L187.5,232.6 L188,231.46 L188.5,230.37 L189,229.33 L189.5,228.35 L190,227.42 L190.5,226.56 L191,225.76 L191.5,225.03 L192,224.37 L192.5,223.79 L193,223.28 L193.5,222.85 L194,222.5 L194.5,222.23 L195,222.04 L195.5,221.94 L196,221.92 L196.5,221.97 L197,222.09 L197.5,222.27 L198,222.52 L198.5,222.83 L199,223.2 L199.5,223.63 L200,224.12 L200.5,224.66 L201,225.27 L201.5,225.92 L202,226.63 L202.5,227.4 L203,228.2 L203.5,229.06 L204,229.96 L204.5,230.9 L205,231.88 L205.5,232.9 L206,233.96 L206.5,235.04 L207,236.15 L207.5,237.3 L208,238.46 L208.5,239.65 L209,240.86 L209.5,242.08 L210,243.32 L210.5,244.58 L211,245.84 L211.5,247.11 L212,248.38 L212.5,249.66 L213,250.94 L213.5,252.22 L214,253.5 L214.5,254.77 L215,256.03 L215.5,257.28 L216,258.53 L216.5,259.76 L217,260.98 L217.5,262.19 L218,263.37 L218.5,264.55 L219,265.7 L219.5,266.83 L220,267.95 L220.5,269.04 L221,270.11 L221.5,271.15 L222,272.17 L222.5,273.17 L223,274.15 L223.5,275.09 L224,276.02 L224.5,276.91 L225,277.79 L225.5,278.63 L226,279.45 L226.5,280.25 L227,281.02 L227.5,281.76 L228,282.48 L228.5,283.17 L229,283.84 L229.5,284.48 L230,285.1 L230.5,285.69 L231,286.27 L231.5,286.82 L232,287.34 L232.5,287.85 L233,288.33 L233.5,288.79 L234,289.24 L234.5,289.66 L235,290.06 L235.5,290.45 L236,290.82 L236.5,291.17 L237,291.5 L237.5,291.82 L238,292.12 L238.5,292.41 L239,292.68 L239.5,292.94 L240,293.19 L240.5,293.42 L241,293.64 L241.5,293.86 L242,294.05 L242.5,294.24 L243,294.42 L243.5,294.59 L244,294.75 L244.5,294.9 L245,295.04 L245.5,295.18 L246,295.31 L246.5,295.43 L247,295.54 L247.5,295.65 L248,295.75 L248.5,295.85 L249,295.94 L249.5,296.02 L250,296.1 L250.5,296.18 L251,296.25 L251.5,296.32 L252,296.38 L252.5,296.44 L253,296.5 L253.5,296.55 L254,296.6 L254.5,296.65 L255,296.7 L255.5,296.74 L256,296.78 L256.5,296.82 L257,296.85 L257.5,296.89 L258,296.92 L258.5,296.95 L259,296.98 L259.5,297.01 L260,297.03 L260.5,297.06 L261,297.08 L261.5,297.1 L262,297.12 L262.5,297.14 L263,297.16 L263.5,297.18 L264,297.2 L264.5,297.21 L265,297.23 L265.5,297.24 L266,297.26 L266.5,297.27 L267,297.28 L267.5,297.3 L268,297.31 L268.5,297.32 L269,297.33 L269.5,297.34 L270,297.35 L270.5,297.36 L271,297.37 L271.5,297.38 L272,297.39 L272.5,297.4 L273,297.41 L273.5,297.41 L274,297.42 L274.5,297.43 L275,297.44 L275.5,297.44 L276,297.45 L276.5,297.46 L277,297.46 L277.5,297.47 L278,297.47 L278.5,297.48 L279,297.49 L279.5,297.49 L280,297.5 L280.5,297.5 L281,297.51 L281.5,297.51 L282,297.52 L282.5,297.52 L283,297.53 L283.5,297.53 L284,297.54 L284.5,297.54 L285,297.55 L285.5,297.55 L286,297.55 L286.5,297.56 L287,297.56 L287.5,297.57 L288,297.57 L288.5,297.58 L289,297.58 L289.5,297.58 L290,297.59 L290.5,297.59 L291,297.59 L291.5,297.6 L292,297.6 L292.5,297.6 L293,297.61 L293.5,297.61 L294,297.61 L294.5,297.62 L295,297.62 L295.5,297.62 L296,297.63 L296.5,297.63 L297,297.63 L297.5,297.64 L298,297.64 L298.5,297.64 L299,297.64 L299.5,297.65 L300,297.65 L300.5,297.65 L301,297.66 L301.5,297.66 L302,297.66 L302.5,297.66 L303,297.67 L303.5,297.67 L304,297.67 L304.5,297.67 L305,297.68 L305.5,297.68 L306,297.68 L306.5,297.68 L307,297.69 L307.5,297.69 L308,297.69 L308.5,297.69 L309,297.69 L309.5,297.7 L310,297.7 L310.5,297.7 L311,297.7 L311.5,297.71 L312,297.71 L312.5,297.71 L313,297.71 L313.5,297.71 L314,297.72 L314.5,297.72 L315,297.72 L315.5,297.72 L316,297.72 L316.5,297.72 L317,297.73 L317.5,297.73 L318,297.73 L318.5,297.73 L319,297.73 L319.5,297.74 L320,297.74 L320.5,297.74 L321,297.74 L321.5,297.74 L322,297.74 L322.5,297.74 L323,297.75 L323.5,297.75 L324,297.75 L324.5,297.75 L325,297.75 L325.5,297.75 L326,297.76 L326.5,297.76 L327,297.76 L327.5,297.76 L328,297.76 L328.5,297.76 L329,297.76 L329.5,297.77 L330,297.77 L330.5,297.77 L331,297.77 L331.5,297.77 L332,297.77 L332.5,297.77 L333,297.77" fill="none" stroke="#128a26" stroke-width="1.7" stroke-linejoin="round"/>
<path d="M102,293.46 L102.5,293.46 L103,293.46 L103.5,293.46 L104,293.46 L104.5,293.46 L105,293.46 L105.5,293.46 L106,293.46 L106.5,293.46 L107,293.46 L107.5,293.46 L108,293.46 L108.5,293.46 L109,293.46 L109.5,293.46 L110,293.46 L110.5,293.46 L111,293.46 L111.5,293.46 L112,293.46 L112.5,293.46 L113,293.46 L113.5,293.46 L114,293.46 L114.5,293.46 L115,293.46 L115.5,293.47 L116,293.47 L116.5,293.47 L117,293.47 L117.5,293.47 L118,293.47 L118.5,293.47 L119,293.47 L119.5,293.47 L120,293.47 L120.5,293.47 L121,293.47 L121.5,293.47 L122,293.47 L122.5,293.47 L123,293.47 L123.5,293.47 L124,293.47 L124.5,293.47 L125,293.47 L125.5,293.47 L126,293.47 L126.5,293.47 L127,293.47 L127.5,293.47 L128,293.47 L128.5,293.47 L129,293.47 L129.5,293.47 L130,293.47 L130.5,293.47 L131,293.47 L131.5,293.47 L132,293.47 L132.5,293.47 L133,293.47 L133.5,293.47 L134,293.47 L134.5,293.47 L135,293.47 L135.5,293.47 L136,293.47 L136.5,293.47 L137,293.48 L137.5,293.48 L138,293.48 L138.5,293.48 L139,293.48 L139.5,293.48 L140,293.48 L140.5,293.48 L141,293.48 L141.5,293.48 L142,293.48 L142.5,293.48 L143,293.48 L143.5,293.48 L144,293.48 L144.5,293.48 L145,293.48 L145.5,293.48 L146,293.48 L146.5,293.48 L147,293.48 L147.5,293.48 L148,293.48 L148.5,293.48 L149,293.49 L149.5,293.49 L150,293.49 L150.5,293.49 L151,293.49 L151.5,293.49 L152,293.49 L152.5,293.49 L153,293.49 L153.5,293.49 L154,293.49 L154.5,293.49 L155,293.49 L155.5,293.5 L156,293.5 L156.5,293.5 L157,293.5 L157.5,293.5 L158,293.5 L158.5,293.5 L159,293.5 L159.5,293.51 L160,293.51 L160.5,293.51 L161,293.51 L161.5,293.51 L162,293.52 L162.5,293.52 L163,293.52 L163.5,293.52 L164,293.53 L164.5,293.53 L165,293.53 L165.5,293.54 L166,293.54 L166.5,293.54 L167,293.55 L167.5,293.55 L168,293.55 L168.5,293.56 L169,293.56 L169.5,293.57 L170,293.57 L170.5,293.58 L171,293.59 L171.5,293.59 L172,293.6 L172.5,293.61 L173,293.61 L173.5,293.62 L174,293.63 L174.5,293.64 L175,293.64 L175.5,293.65 L176,293.66 L176.5,293.67 L177,293.68 L177.5,293.69 L178,293.7 L178.5,293.72 L179,293.73 L179.5,293.74 L180,293.75 L180.5,293.77 L181,293.78 L181.5,293.79 L182,293.81 L182.5,293.82 L183,293.84 L183.5,293.86 L184,293.87 L184.5,293.89 L185,293.91 L185.5,293.92 L186,293.94 L186.5,293.96 L187,293.98 L187.5,294 L188,294.02 L188.5,294.04 L189,294.06 L189.5,294.08 L190,294.1 L190.5,294.12 L191,294.15 L191.5,294.17 L192,294.19 L192.5,294.21 L193,294.24 L193.5,294.26 L194,294.28 L194.5,294.31 L195,294.33 L195.5,294.35 L196,294.38 L196.5,294.4 L197,294.43 L197.5,294.45 L198,294.48 L198.5,294.5 L199,294.53 L199.5,294.55 L200,294.57 L200.5,294.6 L201,294.62 L201.5,294.65 L202,294.67 L202.5,294.7 L203,294.72 L203.5,294.75 L204,294.77 L204.5,294.8 L205,294.82 L205.5,294.85 L206,294.87 L206.5,294.9 L207,294.93 L207.5,294.95 L208,294.98 L208.5,295 L209,295.03 L209.5,295.05 L210,295.08 L210.5,295.1 L211,295.13 L211.5,295.15 L212,295.18 L212.5,295.21 L213,295.23 L213.5,295.26 L214,295.28 L214.5,295.31 L215,295.34 L215.5,295.36 L216,295.39 L216.5,295.42 L217,295.45 L217.5,295.47 L218,295.5 L218.5,295.53 L219,295.56 L219.5,295.59 L220,295.62 L220.5,295.64 L221,295.67 L221.5,295.7 L222,295.73 L222.5,295.76 L223,295.79 L223.5,295.83 L224,295.86 L224.5,295.89 L225,295.92 L225.5,295.95 L226,295.98 L226.5,296.02 L227,296.05 L227.5,296.08 L228,296.12 L228.5,296.15 L229,296.18 L229.5,296.22 L230,296.25 L230.5,296.29 L231,296.32 L231.5,296.35 L232,296.39 L232.5,296.42 L233,296.46 L233.5,296.49 L234,296.53 L234.5,296.56 L235,296.6 L235.5,296.63 L236,296.67 L236.5,296.7 L237,296.73 L237.5,296.77 L238,296.8 L238.5,296.84 L239,296.87 L239.5,296.9 L240,296.93 L240.5,296.97 L241,297 L241.5,297.03 L242,297.06 L242.5,297.09 L243,297.12 L243.5,297.15 L244,297.18 L244.5,297.2 L245,297.23 L245.5,297.26 L246,297.28 L246.5,297.31 L247,297.33 L247.5,297.36 L248,297.38 L248.5,297.41 L249,297.43 L249.5,297.45 L250,297.47 L250.5,297.49 L251,297.51 L251.5,297.53 L252,297.55 L252.5,297.56 L253,297.58 L253.5,297.6 L254,297.61 L254.5,297.63 L255,297.64 L255.5,297.66 L256,297.67 L256.5,297.68 L257,297.69 L257.5,297.71 L258,297.72 L258.5,297.73 L259,297.74 L259.5,297.75 L260,297.76 L260.5,297.76 L261,297.77 L261.5,297.78 L262,297.79 L262.5,297.79 L263,297.8 L263.5,297.81 L264,297.81 L264.5,297.82 L265,297.82 L265.5,297.83 L266,297.83 L266.5,297.84 L267,297.84 L267.5,297.85 L268,297.85 L268.5,297.85 L269,297.86 L269.5,297.86 L270,297.86 L270.5,297.87 L271,297.87 L271.5,297.87 L272,297.87 L272.5,297.88 L273,297.88 L273.5,297.88 L274,297.88 L274.5,297.88 L275,297.88 L275.5,297.89 L276,297.89 L276.5,297.89 L277,297.89 L277.5,297.89 L278,297.89 L278.5,297.89 L279,297.89 L279.5,297.89 L280,297.9 L280.5,297.9 L281,297.9 L281.5,297.9 L282,297.9 L282.5,297.9 L283,297.9 L283.5,297.9 L284,297.9 L284.5,297.9 L285,297.9 L285.5,297.9 L286,297.9 L286.5,297.9 L287,297.91 L287.5,297.91 L288,297.91 L288.5,297.91 L289,297.91 L289.5,297.91 L290,297.91 L290.5,297.91 L291,297.91 L291.5,297.91 L292,297.91 L292.5,297.91 L293,297.91 L293.5,297.91 L294,297.91 L294.5,297.91 L295,297.91 L295.5,297.91 L296,297.91 L296.5,297.91 L297,297.91 L297.5,297.91 L298,297.91 L298.5,297.91 L299,297.91 L299.5,297.92 L300,297.92 L300.5,297.92 L301,297.92 L301.5,297.92 L302,297.92 L302.5,297.92 L303,297.92 L303.5,297.92 L304,297.92 L304.5,297.92 L305,297.92 L305.5,297.92 L306,297.92 L306.5,297.92 L307,297.92 L307.5,297.92 L308,297.92 L308.5,297.92 L309,297.92 L309.5,297.92 L310,297.92 L310.5,297.92 L311,297.92 L311.5,297.92 L312,297.92 L312.5,297.92 L313,297.92 L313.5,297.92 L314,297.92 L314.5,297.92 L315,297.92 L315.5,297.92 L316,297.92 L316.5,297.92 L317,297.92 L317.5,297.92 L318,297.92 L318.5,297.92 L319,297.92 L319.5,297.92 L320,297.93 L320.5,297.93 L321,297.93 L321.5,297.93 L322,297.93 L322.5,297.93 L323,297.93 L323.5,297.93 L324,297.93 L324.5,297.93 L325,297.93 L325.5,297.93 L326,297.93 L326.5,297.93 L327,297.93 L327.5,297.93 L328,297.93 L328.5,297.93 L329,297.93 L329.5,297.93 L330,297.93 L330.5,297.93 L331,297.93 L331.5,297.93 L332,297.93 L332.5,297.93 L333,297.93" fill="none" stroke="#8c8c8c" stroke-width="1.5"/>
<path d="M102,293 L102.5,292.99 L103,292.99 L103.5,292.98 L104,292.98 L104.5,292.98 L105,292.97 L105.5,292.97 L106,292.96 L106.5,292.96 L107,292.95 L107.5,292.95 L108,292.94 L108.5,292.94 L109,292.93 L109.5,292.93 L110,292.92 L110.5,292.92 L111,292.91 L111.5,292.91 L112,292.9 L112.5,292.9 L113,292.89 L113.5,292.89 L114,292.88 L114.5,292.88 L115,292.87 L115.5,292.86 L116,292.86 L116.5,292.85 L117,292.85 L117.5,292.84 L118,292.83 L118.5,292.83 L119,292.82 L119.5,292.81 L120,292.81 L120.5,292.8 L121,292.79 L121.5,292.79 L122,292.78 L122.5,292.77 L123,292.76 L123.5,292.76 L124,292.75 L124.5,292.74 L125,292.73 L125.5,292.72 L126,292.71 L126.5,292.71 L127,292.7 L127.5,292.69 L128,292.68 L128.5,292.67 L129,292.66 L129.5,292.65 L130,292.64 L130.5,292.63 L131,292.62 L131.5,292.61 L132,292.6 L132.5,292.58 L133,292.57 L133.5,292.56 L134,292.55 L134.5,292.53 L135,292.52 L135.5,292.5 L136,292.49 L136.5,292.47 L137,292.46 L137.5,292.44 L138,292.42 L138.5,292.41 L139,292.39 L139.5,292.37 L140,292.34 L140.5,292.32 L141,292.3 L141.5,292.27 L142,292.24 L142.5,292.22 L143,292.19 L143.5,292.15 L144,292.12 L144.5,292.08 L145,292.04 L145.5,292 L146,291.95 L146.5,291.91 L147,291.85 L147.5,291.8 L148,291.74 L148.5,291.67 L149,291.6 L149.5,291.53 L150,291.45 L150.5,291.36 L151,291.27 L151.5,291.17 L152,291.06 L152.5,290.95 L153,290.82 L153.5,290.69 L154,290.55 L154.5,290.39 L155,290.23 L155.5,290.05 L156,289.86 L156.5,289.66 L157,289.44 L157.5,289.21 L158,288.96 L158.5,288.7 L159,288.42 L159.5,288.11 L160,287.79 L160.5,287.45 L161,287.09 L161.5,286.71 L162,286.3 L162.5,285.87 L163,285.41 L163.5,284.93 L164,284.42 L164.5,283.88 L165,283.31 L165.5,282.72 L166,282.09 L166.5,281.43 L167,280.74 L167.5,280.02 L168,279.27 L168.5,278.48 L169,277.66 L169.5,276.8 L170,275.91 L170.5,274.98 L171,274.02 L171.5,273.03 L172,272 L172.5,270.93 L173,269.83 L173.5,268.7 L174,267.54 L174.5,266.34 L175,265.11 L175.5,263.86 L176,262.57 L176.5,261.26 L177,259.92 L177.5,258.56 L178,257.17 L178.5,255.77 L179,254.34 L179.5,252.9 L180,251.45 L180.5,249.98 L181,248.51 L181.5,247.03 L182,245.54 L182.5,244.06 L183,242.58 L183.5,241.1 L184,239.63 L184.5,238.18 L185,236.74 L185.5,235.32 L186,233.92 L186.5,232.54 L187,231.19 L187.5,229.88 L188,228.59 L188.5,227.35 L189,226.15 L189.5,224.98 L190,223.87 L190.5,222.8 L191,221.79 L191.5,220.83 L192,219.92 L192.5,219.07 L193,218.28 L193.5,217.55 L194,216.88 L194.5,216.27 L195,215.72 L195.5,215.24 L196,214.81 L196.5,214.43 L197,214.09 L197.5,213.79 L198,213.53 L198.5,213.29 L199,213.09 L199.5,212.92 L200,212.78 L200.5,212.66 L201,212.56 L201.5,212.48 L202,212.42 L202.5,212.37 L203,212.33 L203.5,212.3 L204,212.27 L204.5,212.25 L205,212.22 L205.5,212.19 L206,212.15 L206.5,212.1 L207,212.04 L207.5,211.96 L208,211.86 L208.5,211.75 L209,211.6 L209.5,211.44 L210,211.24 L210.5,211.02 L211,210.76 L211.5,210.47 L212,210.15 L212.5,209.79 L213,209.4 L213.5,208.97 L214,208.5 L214.5,208 L215,207.46 L215.5,206.88 L216,206.26 L216.5,205.61 L217,204.93 L217.5,204.22 L218,203.47 L218.5,202.69 L219,201.89 L219.5,201.06 L220,200.21 L220.5,199.34 L221,198.45 L221.5,197.55 L222,196.64 L222.5,195.72 L223,194.8 L223.5,193.88 L224,192.96 L224.5,192.05 L225,191.16 L225.5,190.28 L226,189.43 L226.5,188.6 L227,187.8 L227.5,187.03 L228,186.31 L228.5,185.63 L229,185 L229.5,184.42 L230,183.89 L230.5,183.43 L231,183.03 L231.5,182.7 L232,182.44 L232.5,182.26 L233,182.15 L233.5,182.12 L234,182.18 L234.5,182.31 L235,182.54 L235.5,182.85 L236,183.26 L236.5,183.77 L237,184.4 L237.5,185.13 L238,185.97 L238.5,186.91 L239,187.96 L239.5,189.11 L240,190.36 L240.5,191.7 L241,193.13 L241.5,194.65 L242,196.25 L242.5,197.93 L243,199.68 L243.5,201.5 L244,203.39 L244.5,205.33 L245,207.32 L245.5,209.36 L246,211.44 L246.5,213.56 L247,215.71 L247.5,217.88 L248,220.08 L248.5,222.29 L249,224.51 L249.5,226.74 L250,228.97 L250.5,231.19 L251,233.41 L251.5,235.61 L252,237.8 L252.5,239.96 L253,242.11 L253.5,244.22 L254,246.3 L254.5,248.35 L255,250.37 L255.5,252.34 L256,254.27 L256.5,256.16 L257,258 L257.5,259.8 L258,261.55 L258.5,263.24 L259,264.89 L259.5,266.49 L260,268.03 L260.5,269.52 L261,270.96 L261.5,272.34 L262,273.67 L262.5,274.95 L263,276.18 L263.5,277.35 L264,278.48 L264.5,279.55 L265,280.58 L265.5,281.56 L266,282.49 L266.5,283.37 L267,284.21 L267.5,285.01 L268,285.76 L268.5,286.48 L269,287.15 L269.5,287.79 L270,288.39 L270.5,288.96 L271,289.49 L271.5,289.99 L272,290.46 L272.5,290.9 L273,291.32 L273.5,291.7 L274,292.07 L274.5,292.4 L275,292.72 L275.5,293.01 L276,293.29 L276.5,293.55 L277,293.78 L277.5,294.01 L278,294.21 L278.5,294.4 L279,294.58 L279.5,294.75 L280,294.9 L280.5,295.04 L281,295.18 L281.5,295.3 L282,295.41 L282.5,295.52 L283,295.62 L283.5,295.71 L284,295.79 L284.5,295.87 L285,295.94 L285.5,296.01 L286,296.07 L286.5,296.13 L287,296.19 L287.5,296.24 L288,296.29 L288.5,296.33 L289,296.37 L289.5,296.41 L290,296.45 L290.5,296.48 L291,296.52 L291.5,296.55 L292,296.58 L292.5,296.6 L293,296.63 L293.5,296.66 L294,296.68 L294.5,296.7 L295,296.72 L295.5,296.74 L296,296.76 L296.5,296.78 L297,296.8 L297.5,296.82 L298,296.84 L298.5,296.85 L299,296.87 L299.5,296.88 L300,296.9 L300.5,296.91 L301,296.93 L301.5,296.94 L302,296.95 L302.5,296.97 L303,296.98 L303.5,296.99 L304,297 L304.5,297.02 L305,297.03 L305.5,297.04 L306,297.05 L306.5,297.06 L307,297.07 L307.5,297.08 L308,297.09 L308.5,297.1 L309,297.11 L309.5,297.12 L310,297.13 L310.5,297.14 L311,297.15 L311.5,297.16 L312,297.17 L312.5,297.18 L313,297.19 L313.5,297.19 L314,297.2 L314.5,297.21 L315,297.22 L315.5,297.23 L316,297.23 L316.5,297.24 L317,297.25 L317.5,297.26 L318,297.26 L318.5,297.27 L319,297.28 L319.5,297.28 L320,297.29 L320.5,297.3 L321,297.3 L321.5,297.31 L322,297.32 L322.5,297.32 L323,297.33 L323.5,297.34 L324,297.34 L324.5,297.35 L325,297.35 L325.5,297.36 L326,297.36 L326.5,297.37 L327,297.38 L327.5,297.38 L328,297.39 L328.5,297.39 L329,297.4 L329.5,297.4 L330,297.41 L330.5,297.41 L331,297.42 L331.5,297.42 L332,297.43 L332.5,297.43 L333,297.44" fill="none" stroke="#f00000" stroke-width="1.95" stroke-linejoin="round"/>
<path d="M58.6,289.23h0M60.17,288.71h0M61.73,289.35h0M63.3,290.51h0M64.87,290.28h0M66.43,289.14h0M68,291.31h0M69.57,289.43h0M71.13,290.03h0M72.7,288.51h0M74.27,289.1h0M75.83,287.64h0M77.4,289.96h0M78.97,289.79h0M80.53,288.7h0M82.1,288.67h0M83.67,288.8h0M85.23,291.04h0M86.8,290.36h0M88.37,291.58h0M89.93,291.8h0M91.5,292.04h0M93.07,291.49h0M94.63,292.59h0M96.2,291.59h0M97.77,292.82h0M99.33,293.15h0M100.9,293.4h0M102.47,292.23h0M104.03,291.39h0M105.6,292.18h0M107.17,291.25h0M108.73,292.54h0M110.3,291.56h0M111.87,290.54h0M113.43,290.11h0M115,290.13h0M116.57,289.66h0M118.13,289.72h0M119.7,289.55h0M121.27,289.61h0M122.83,288.81h0M124.4,289.66h0M125.97,286.48h0M127.53,286.21h0M129.1,287.67h0M130.67,283.45h0M132.23,283.59h0M133.8,284.02h0M135.37,283.56h0M136.93,283.15h0M138.5,282.37h0M140.07,282.74h0M141.63,281.98h0M143.2,281.91h0M144.77,278.84h0M146.33,278.92h0M147.9,278.67h0M149.47,276.82h0M151.03,276.02h0M152.6,276.41h0M154.17,274.73h0M155.73,274.81h0M157.3,274.29h0M158.87,273.86h0M160.43,273.37h0M162,271.46h0M163.57,268.98h0M165.13,268.17h0M166.7,267.56h0M168.27,265.18h0M169.83,263.32h0M171.4,261.37h0M172.97,257.36h0M174.53,255.49h0M176.1,254.53h0M177.67,249.47h0M179.23,247.08h0M180.8,243.88h0M182.37,242.8h0M183.93,238.59h0M185.5,236.05h0M187.07,231.31h0M188.63,227.74h0M190.2,223.63h0M191.77,218.36h0M193.33,218.06h0M194.9,216.48h0M196.47,213.66h0M198.03,215.62h0M199.6,215.54h0M201.17,216.51h0M202.73,216.59h0M204.3,215.01h0M205.87,215.66h0M207.43,216.57h0M209,214.19h0M210.57,213.21h0M212.13,212.11h0M213.7,210.6h0M215.27,210.2h0M216.83,209.33h0M218.4,205.58h0M219.97,202h0M221.53,199.94h0M223.1,195.17h0M224.67,192.52h0M226.23,190.75h0M227.8,188.5h0M229.37,185.64h0M230.93,182.11h0M232.5,179.45h0M234.07,176.45h0M235.63,173.27h0M237.2,174.71h0M238.77,178.08h0M240.33,185.4h0M241.9,194.25h0M243.47,200.07h0M245.03,206.02h0M246.6,214.12h0M248.17,221.17h0M249.73,226.52h0M251.3,234.7h0M252.87,240.26h0M254.43,247.69h0M256,254.39h0M257.57,260.48h0M259.13,263.97h0M260.7,269.09h0M262.27,273.45h0M263.83,275.62h0M265.4,279.91h0M266.97,281.98h0M268.53,284.8h0M270.1,283.99h0M271.67,284.05h0M273.23,287.81h0M274.8,289.4h0M276.37,289.59h0M277.93,291.35h0M279.5,291.05h0M281.07,290.59h0M282.63,291.81h0M284.2,290.13h0M285.77,291.4h0M287.33,292.55h0M288.9,293.68h0M290.47,293.33h0M292.03,294.8h0M293.6,294.87h0M295.17,296.19h0M296.73,297.6h0M298.3,295.76h0M299.87,298.25h0M301.43,296.07h0M303,296.4h0M304.57,296.51h0M306.13,297.61h0M307.7,295.84h0M309.27,295.07h0M310.83,297.71h0M312.4,297.59h0M313.97,297.41h0M315.53,298.92h0M317.1,296.55h0M318.67,296.68h0M320.23,296.98h0M321.8,296.58h0M323.37,297.9h0M324.93,295.69h0M326.5,296.32h0M328.07,293.59h0M329.63,297.08h0M331.2,296.08h0M332.77,296.82h0M334.33,297.28h0M335.9,295.33h0M337.47,295.16h0" stroke="#000" stroke-width="4.6" stroke-linecap="round" fill="none"/>
<path d="M114,455.7 L114.5,455.7 L115,455.7 L115.5,455.69 L116,455.69 L116.5,455.69 L117,455.69 L117.5,455.69 L118,455.68 L118.5,455.68 L119,455.68 L119.5,455.68 L120,455.68 L120.5,455.67 L121,455.67 L121.5,455.67 L122,455.67 L122.5,455.66 L123,455.66 L123.5,455.66 L124,455.66 L124.5,455.66 L125,455.65 L125.5,455.65 L126,455.65 L126.5,455.65 L127,455.64 L127.5,455.64 L128,455.64 L128.5,455.64 L129,455.63 L129.5,455.63 L130,455.63 L130.5,455.62 L131,455.62 L131.5,455.62 L132,455.62 L132.5,455.61 L133,455.61 L133.5,455.61 L134,455.6 L134.5,455.6 L135,455.6 L135.5,455.59 L136,455.59 L136.5,455.59 L137,455.58 L137.5,455.58 L138,455.58 L138.5,455.57 L139,455.57 L139.5,455.57 L140,455.56 L140.5,455.56 L141,455.56 L141.5,455.55 L142,455.55 L142.5,455.54 L143,455.54 L143.5,455.54 L144,455.53 L144.5,455.53 L145,455.52 L145.5,455.52 L146,455.52 L146.5,455.51 L147,455.51 L147.5,455.5 L148,455.5 L148.5,455.49 L149,455.49 L149.5,455.48 L150,455.48 L150.5,455.47 L151,455.47 L151.5,455.46 L152,455.46 L152.5,455.45 L153,455.45 L153.5,455.44 L154,455.44 L154.5,455.43 L155,455.43 L155.5,455.42 L156,455.41 L156.5,455.41 L157,455.4 L157.5,455.4 L158,455.39 L158.5,455.38 L159,455.38 L159.5,455.37 L160,455.37 L160.5,455.36 L161,455.35 L161.5,455.35 L162,455.34 L162.5,455.33 L163,455.33 L163.5,455.32 L164,455.31 L164.5,455.3 L165,455.3 L165.5,455.29 L166,455.28 L166.5,455.27 L167,455.27 L167.5,455.26 L168,455.25 L168.5,455.24 L169,455.23 L169.5,455.22 L170,455.21 L170.5,455.2 L171,455.19 L171.5,455.18 L172,455.17 L172.5,455.15 L173,455.14 L173.5,455.13 L174,455.11 L174.5,455.1 L175,455.08 L175.5,455.06 L176,455.04 L176.5,455.02 L177,454.99 L177.5,454.97 L178,454.94 L178.5,454.91 L179,454.88 L179.5,454.84 L180,454.8 L180.5,454.76 L181,454.72 L181.5,454.67 L182,454.61 L182.5,454.55 L183,454.49 L183.5,454.42 L184,454.34 L184.5,454.26 L185,454.17 L185.5,454.07 L186,453.96 L186.5,453.85 L187,453.72 L187.5,453.58 L188,453.44 L188.5,453.28 L189,453.1 L189.5,452.91 L190,452.71 L190.5,452.49 L191,452.26 L191.5,452.01 L192,451.74 L192.5,451.45 L193,451.13 L193.5,450.8 L194,450.44 L194.5,450.06 L195,449.65 L195.5,449.22 L196,448.75 L196.5,448.26 L197,447.73 L197.5,447.18 L198,446.59 L198.5,445.97 L199,445.31 L199.5,444.61 L200,443.87 L200.5,443.1 L201,442.29 L201.5,441.43 L202,440.53 L202.5,439.59 L203,438.61 L203.5,437.58 L204,436.51 L204.5,435.39 L205,434.22 L205.5,433.01 L206,431.75 L206.5,430.44 L207,429.09 L207.5,427.69 L208,426.25 L208.5,424.76 L209,423.23 L209.5,421.66 L210,420.04 L210.5,418.39 L211,416.69 L211.5,414.96 L212,413.19 L212.5,411.39 L213,409.56 L213.5,407.7 L214,405.82 L214.5,403.92 L215,401.99 L215.5,400.05 L216,398.1 L216.5,396.14 L217,394.18 L217.5,392.21 L218,390.25 L218.5,388.3 L219,386.36 L219.5,384.44 L220,382.54 L220.5,380.67 L221,378.83 L221.5,377.02 L222,375.26 L222.5,373.54 L223,371.88 L223.5,370.27 L224,368.73 L224.5,367.25 L225,365.84 L225.5,364.51 L226,363.26 L226.5,362.09 L227,361.01 L227.5,360.03 L228,359.14 L228.5,358.36 L229,357.67 L229.5,357.09 L230,356.62 L230.5,356.27 L231,356.02 L231.5,355.88 L232,355.86 L232.5,355.96 L233,356.17 L233.5,356.49 L234,356.93 L234.5,357.49 L235,358.15 L235.5,358.92 L236,359.8 L236.5,360.78 L237,361.86 L237.5,363.03 L238,364.29 L238.5,365.64 L239,367.07 L239.5,368.57 L240,370.15 L240.5,371.79 L241,373.49 L241.5,375.25 L242,377.06 L242.5,378.91 L243,380.81 L243.5,382.74 L244,384.69 L244.5,386.68 L245,388.68 L245.5,390.69 L246,392.72 L246.5,394.75 L247,396.79 L247.5,398.82 L248,400.84 L248.5,402.85 L249,404.84 L249.5,406.82 L250,408.77 L250.5,410.7 L251,412.6 L251.5,414.47 L252,416.31 L252.5,418.1 L253,419.87 L253.5,421.59 L254,423.27 L254.5,424.9 L255,426.5 L255.5,428.04 L256,429.54 L256.5,431 L257,432.4 L257.5,433.76 L258,435.07 L258.5,436.33 L259,437.55 L259.5,438.71 L260,439.83 L260.5,440.91 L261,441.93 L261.5,442.91 L262,443.85 L262.5,444.74 L263,445.59 L263.5,446.4 L264,447.17 L264.5,447.9 L265,448.59 L265.5,449.25 L266,449.87 L266.5,450.45 L267,451 L267.5,451.52 L268,452.01 L268.5,452.47 L269,452.91 L269.5,453.32 L270,453.7 L270.5,454.06 L271,454.39 L271.5,454.71 L272,455 L272.5,455.27 L273,455.53 L273.5,455.77 L274,455.99 L274.5,456.2 L275,456.39 L275.5,456.57 L276,456.74 L276.5,456.9 L277,457.04 L277.5,457.18 L278,457.3 L278.5,457.42 L279,457.53 L279.5,457.63 L280,457.72 L280.5,457.81 L281,457.89 L281.5,457.97 L282,458.04 L282.5,458.1 L283,458.16 L283.5,458.22 L284,458.27 L284.5,458.32 L285,458.37 L285.5,458.41 L286,458.45 L286.5,458.49 L287,458.52 L287.5,458.56 L288,458.59 L288.5,458.62 L289,458.64 L289.5,458.67 L290,458.7 L290.5,458.72 L291,458.74 L291.5,458.76 L292,458.78 L292.5,458.8 L293,458.82 L293.5,458.83 L294,458.85 L294.5,458.87 L295,458.88 L295.5,458.9 L296,458.91 L296.5,458.92 L297,458.94 L297.5,458.95 L298,458.96 L298.5,458.97 L299,458.98 L299.5,458.99 L300,459 L300.5,459.01 L301,459.02 L301.5,459.03 L302,459.04 L302.5,459.05 L303,459.06 L303.5,459.07 L304,459.08 L304.5,459.09 L305,459.09 L305.5,459.1 L306,459.11 L306.5,459.12 L307,459.12 L307.5,459.13 L308,459.14 L308.5,459.14 L309,459.15 L309.5,459.16 L310,459.16 L310.5,459.17 L311,459.18 L311.5,459.18 L312,459.19 L312.5,459.2 L313,459.2 L313.5,459.21 L314,459.21 L314.5,459.22 L315,459.22 L315.5,459.23 L316,459.23 L316.5,459.24 L317,459.24 L317.5,459.25 L318,459.25 L318.5,459.26 L319,459.26 L319.5,459.27 L320,459.27 L320.5,459.28 L321,459.28 L321.5,459.29 L322,459.29 L322.5,459.3 L323,459.3 L323.5,459.3 L324,459.31 L324.5,459.31 L325,459.32 L325.5,459.32 L326,459.32 L326.5,459.33 L327,459.33 L327.5,459.33 L328,459.34 L328.5,459.34 L329,459.34 L329.5,459.35 L330,459.35 L330.5,459.36 L331,459.36 L331.5,459.36 L332,459.36 L332.5,459.37 L333,459.37" fill="none" stroke="#128a26" stroke-width="1.7" stroke-linejoin="round"/>
<path d="M114,455.6 L114.5,455.6 L115,455.59 L115.5,455.59 L116,455.59 L116.5,455.58 L117,455.58 L117.5,455.57 L118,455.57 L118.5,455.57 L119,455.56 L119.5,455.56 L120,455.55 L120.5,455.55 L121,455.54 L121.5,455.54 L122,455.53 L122.5,455.53 L123,455.52 L123.5,455.51 L124,455.51 L124.5,455.5 L125,455.5 L125.5,455.49 L126,455.48 L126.5,455.48 L127,455.47 L127.5,455.46 L128,455.46 L128.5,455.45 L129,455.44 L129.5,455.43 L130,455.43 L130.5,455.42 L131,455.41 L131.5,455.4 L132,455.39 L132.5,455.38 L133,455.37 L133.5,455.36 L134,455.35 L134.5,455.33 L135,455.32 L135.5,455.31 L136,455.29 L136.5,455.28 L137,455.26 L137.5,455.25 L138,455.23 L138.5,455.21 L139,455.19 L139.5,455.17 L140,455.14 L140.5,455.12 L141,455.09 L141.5,455.06 L142,455.03 L142.5,455 L143,454.96 L143.5,454.92 L144,454.88 L144.5,454.83 L145,454.78 L145.5,454.73 L146,454.67 L146.5,454.61 L147,454.54 L147.5,454.47 L148,454.39 L148.5,454.3 L149,454.21 L149.5,454.11 L150,454.01 L150.5,453.89 L151,453.77 L151.5,453.64 L152,453.49 L152.5,453.34 L153,453.17 L153.5,452.99 L154,452.8 L154.5,452.6 L155,452.38 L155.5,452.15 L156,451.89 L156.5,451.63 L157,451.34 L157.5,451.04 L158,450.71 L158.5,450.37 L159,450 L159.5,449.61 L160,449.2 L160.5,448.77 L161,448.31 L161.5,447.82 L162,447.31 L162.5,446.77 L163,446.2 L163.5,445.6 L164,444.97 L164.5,444.31 L165,443.62 L165.5,442.9 L166,442.14 L166.5,441.36 L167,440.54 L167.5,439.69 L168,438.8 L168.5,437.88 L169,436.93 L169.5,435.95 L170,434.93 L170.5,433.89 L171,432.81 L171.5,431.7 L172,430.56 L172.5,429.39 L173,428.19 L173.5,426.97 L174,425.72 L174.5,424.45 L175,423.16 L175.5,421.85 L176,420.52 L176.5,419.18 L177,417.82 L177.5,416.46 L178,415.08 L178.5,413.7 L179,412.32 L179.5,410.94 L180,409.56 L180.5,408.19 L181,406.83 L181.5,405.49 L182,404.16 L182.5,402.85 L183,401.57 L183.5,400.31 L184,399.09 L184.5,397.9 L185,396.75 L185.5,395.65 L186,394.59 L186.5,393.58 L187,392.62 L187.5,391.72 L188,390.89 L188.5,390.11 L189,389.4 L189.5,388.76 L190,388.19 L190.5,387.69 L191,387.27 L191.5,386.93 L192,386.66 L192.5,386.48 L193,386.37 L193.5,386.35 L194,386.41 L194.5,386.54 L195,386.76 L195.5,387.06 L196,387.43 L196.5,387.88 L197,388.4 L197.5,388.99 L198,389.65 L198.5,390.38 L199,391.18 L199.5,392.04 L200,392.95 L200.5,393.93 L201,394.95 L201.5,396.02 L202,397.14 L202.5,398.3 L203,399.5 L203.5,400.74 L204,402.01 L204.5,403.3 L205,404.62 L205.5,405.96 L206,407.32 L206.5,408.69 L207,410.07 L207.5,411.46 L208,412.86 L208.5,414.25 L209,415.65 L209.5,417.04 L210,418.42 L210.5,419.79 L211,421.16 L211.5,422.5 L212,423.83 L212.5,425.15 L213,426.44 L213.5,427.71 L214,428.95 L214.5,430.18 L215,431.37 L215.5,432.54 L216,433.68 L216.5,434.79 L217,435.86 L217.5,436.91 L218,437.93 L218.5,438.91 L219,439.86 L219.5,440.78 L220,441.67 L220.5,442.53 L221,443.35 L221.5,444.14 L222,444.9 L222.5,445.63 L223,446.33 L223.5,447 L224,447.64 L224.5,448.25 L225,448.83 L225.5,449.39 L226,449.91 L226.5,450.42 L227,450.89 L227.5,451.35 L228,451.78 L228.5,452.19 L229,452.57 L229.5,452.94 L230,453.28 L230.5,453.61 L231,453.92 L231.5,454.21 L232,454.48 L232.5,454.74 L233,454.98 L233.5,455.21 L234,455.43 L234.5,455.63 L235,455.82 L235.5,456 L236,456.17 L236.5,456.33 L237,456.48 L237.5,456.62 L238,456.75 L238.5,456.88 L239,456.99 L239.5,457.1 L240,457.21 L240.5,457.3 L241,457.4 L241.5,457.48 L242,457.56 L242.5,457.64 L243,457.71 L243.5,457.78 L244,457.84 L244.5,457.9 L245,457.96 L245.5,458.01 L246,458.06 L246.5,458.11 L247,458.16 L247.5,458.2 L248,458.24 L248.5,458.28 L249,458.32 L249.5,458.35 L250,458.39 L250.5,458.42 L251,458.45 L251.5,458.48 L252,458.51 L252.5,458.53 L253,458.56 L253.5,458.58 L254,458.61 L254.5,458.63 L255,458.65 L255.5,458.67 L256,458.69 L256.5,458.71 L257,458.73 L257.5,458.75 L258,458.76 L258.5,458.78 L259,458.8 L259.5,458.81 L260,458.83 L260.5,458.84 L261,458.86 L261.5,458.87 L262,458.88 L262.5,458.9 L263,458.91 L263.5,458.92 L264,458.94 L264.5,458.95 L265,458.96 L265.5,458.97 L266,458.98 L266.5,459 L267,459.01 L267.5,459.02 L268,459.03 L268.5,459.04 L269,459.05 L269.5,459.06 L270,459.07 L270.5,459.08 L271,459.09 L271.5,459.1 L272,459.11 L272.5,459.12 L273,459.13 L273.5,459.14 L274,459.15 L274.5,459.16 L275,459.17 L275.5,459.18 L276,459.19 L276.5,459.2 L277,459.21 L277.5,459.22 L278,459.23 L278.5,459.24 L279,459.25 L279.5,459.26 L280,459.26 L280.5,459.27 L281,459.28 L281.5,459.29 L282,459.3 L282.5,459.31 L283,459.31 L283.5,459.32 L284,459.33 L284.5,459.34 L285,459.34 L285.5,459.35 L286,459.36 L286.5,459.36 L287,459.37 L287.5,459.37 L288,459.38 L288.5,459.39 L289,459.39 L289.5,459.4 L290,459.4 L290.5,459.41 L291,459.41 L291.5,459.42 L292,459.42 L292.5,459.42 L293,459.43 L293.5,459.43 L294,459.44 L294.5,459.44 L295,459.44 L295.5,459.45 L296,459.45 L296.5,459.45 L297,459.46 L297.5,459.46 L298,459.46 L298.5,459.46 L299,459.47 L299.5,459.47 L300,459.47 L300.5,459.47 L301,459.48 L301.5,459.48 L302,459.48 L302.5,459.48 L303,459.48 L303.5,459.49 L304,459.49 L304.5,459.49 L305,459.49 L305.5,459.49 L306,459.5 L306.5,459.5 L307,459.5 L307.5,459.5 L308,459.5 L308.5,459.51 L309,459.51 L309.5,459.51 L310,459.51 L310.5,459.51 L311,459.51 L311.5,459.51 L312,459.52 L312.5,459.52 L313,459.52 L313.5,459.52 L314,459.52 L314.5,459.52 L315,459.53 L315.5,459.53 L316,459.53 L316.5,459.53 L317,459.53 L317.5,459.53 L318,459.53 L318.5,459.53 L319,459.54 L319.5,459.54 L320,459.54 L320.5,459.54 L321,459.54 L321.5,459.54 L322,459.54 L322.5,459.54 L323,459.55 L323.5,459.55 L324,459.55 L324.5,459.55 L325,459.55 L325.5,459.55 L326,459.55 L326.5,459.55 L327,459.55 L327.5,459.56 L328,459.56 L328.5,459.56 L329,459.56 L329.5,459.56 L330,459.56 L330.5,459.56 L331,459.56 L331.5,459.56 L332,459.56 L332.5,459.57 L333,459.57" fill="none" stroke="#128a26" stroke-width="1.7" stroke-linejoin="round"/>
<path d="M157.5,455.92 L158,455.92 L158.5,455.92 L159,455.92 L159.5,455.92 L160,455.92 L160.5,455.92 L161,455.92 L161.5,455.92 L162,455.93 L162.5,455.93 L163,455.93 L163.5,455.93 L164,455.93 L164.5,455.94 L165,455.94 L165.5,455.94 L166,455.94 L166.5,455.95 L167,455.95 L167.5,455.95 L168,455.95 L168.5,455.96 L169,455.96 L169.5,455.97 L170,455.97 L170.5,455.97 L171,455.98 L171.5,455.98 L172,455.99 L172.5,455.99 L173,456 L173.5,456.01 L174,456.01 L174.5,456.02 L175,456.03 L175.5,456.03 L176,456.04 L176.5,456.05 L177,456.06 L177.5,456.06 L178,456.07 L178.5,456.08 L179,456.09 L179.5,456.1 L180,456.11 L180.5,456.12 L181,456.13 L181.5,456.14 L182,456.15 L182.5,456.16 L183,456.17 L183.5,456.19 L184,456.2 L184.5,456.21 L185,456.22 L185.5,456.24 L186,456.25 L186.5,456.26 L187,456.27 L187.5,456.29 L188,456.3 L188.5,456.31 L189,456.33 L189.5,456.34 L190,456.35 L190.5,456.37 L191,456.38 L191.5,456.39 L192,456.41 L192.5,456.42 L193,456.43 L193.5,456.44 L194,456.46 L194.5,456.47 L195,456.48 L195.5,456.49 L196,456.5 L196.5,456.5 L197,456.51 L197.5,456.52 L198,456.52 L198.5,456.53 L199,456.53 L199.5,456.53 L200,456.53 L200.5,456.52 L201,456.52 L201.5,456.51 L202,456.5 L202.5,456.49 L203,456.47 L203.5,456.45 L204,456.43 L204.5,456.41 L205,456.38 L205.5,456.34 L206,456.3 L206.5,456.26 L207,456.21 L207.5,456.15 L208,456.09 L208.5,456.02 L209,455.95 L209.5,455.87 L210,455.78 L210.5,455.68 L211,455.58 L211.5,455.47 L212,455.35 L212.5,455.21 L213,455.07 L213.5,454.92 L214,454.76 L214.5,454.59 L215,454.41 L215.5,454.22 L216,454.02 L216.5,453.81 L217,453.58 L217.5,453.35 L218,453.1 L218.5,452.84 L219,452.58 L219.5,452.3 L220,452.01 L220.5,451.71 L221,451.41 L221.5,451.09 L222,450.77 L222.5,450.43 L223,450.1 L223.5,449.75 L224,449.4 L224.5,449.05 L225,448.69 L225.5,448.33 L226,447.98 L226.5,447.62 L227,447.26 L227.5,446.91 L228,446.56 L228.5,446.21 L229,445.88 L229.5,445.55 L230,445.23 L230.5,444.92 L231,444.63 L231.5,444.35 L232,444.09 L232.5,443.84 L233,443.62 L233.5,443.41 L234,443.23 L234.5,443.06 L235,442.93 L235.5,442.81 L236,442.72 L236.5,442.66 L237,442.62 L237.5,442.62 L238,442.63 L238.5,442.68 L239,442.75 L239.5,442.85 L240,442.98 L240.5,443.13 L241,443.3 L241.5,443.5 L242,443.73 L242.5,443.97 L243,444.24 L243.5,444.52 L244,444.82 L244.5,445.14 L245,445.47 L245.5,445.82 L246,446.18 L246.5,446.55 L247,446.93 L247.5,447.31 L248,447.7 L248.5,448.1 L249,448.5 L249.5,448.9 L250,449.3 L250.5,449.7 L251,450.1 L251.5,450.49 L252,450.88 L252.5,451.27 L253,451.65 L253.5,452.02 L254,452.38 L254.5,452.74 L255,453.09 L255.5,453.42 L256,453.75 L256.5,454.07 L257,454.37 L257.5,454.67 L258,454.95 L258.5,455.22 L259,455.48 L259.5,455.73 L260,455.97 L260.5,456.19 L261,456.41 L261.5,456.61 L262,456.81 L262.5,456.99 L263,457.16 L263.5,457.32 L264,457.47 L264.5,457.62 L265,457.75 L265.5,457.88 L266,458 L266.5,458.11 L267,458.21 L267.5,458.3 L268,458.39 L268.5,458.48 L269,458.55 L269.5,458.62 L270,458.69 L270.5,458.75 L271,458.81 L271.5,458.86 L272,458.91 L272.5,458.95 L273,458.99 L273.5,459.03 L274,459.07 L274.5,459.1 L275,459.13 L275.5,459.16 L276,459.19 L276.5,459.21 L277,459.23 L277.5,459.26 L278,459.28 L278.5,459.29 L279,459.31 L279.5,459.33 L280,459.34 L280.5,459.36 L281,459.37 L281.5,459.38 L282,459.39 L282.5,459.41 L283,459.42 L283.5,459.43 L284,459.44 L284.5,459.45 L285,459.45 L285.5,459.46 L286,459.47 L286.5,459.48 L287,459.48 L287.5,459.49 L288,459.5 L288.5,459.5 L289,459.51 L289.5,459.51 L290,459.52 L290.5,459.52 L291,459.53 L291.5,459.53 L292,459.54 L292.5,459.54 L293,459.54 L293.5,459.55 L294,459.55 L294.5,459.55 L295,459.56 L295.5,459.56 L296,459.56 L296.5,459.57 L297,459.57 L297.5,459.57 L298,459.57 L298.5,459.57 L299,459.58 L299.5,459.58 L300,459.58 L300.5,459.58 L301,459.58 L301.5,459.59 L302,459.59 L302.5,459.59 L303,459.59 L303.5,459.59 L304,459.59 L304.5,459.6 L305,459.6 L305.5,459.6 L306,459.6 L306.5,459.6 L307,459.6 L307.5,459.6 L308,459.61 L308.5,459.61 L309,459.61 L309.5,459.61 L310,459.61 L310.5,459.61 L311,459.61 L311.5,459.61 L312,459.61 L312.5,459.61 L313,459.62 L313.5,459.62 L314,459.62 L314.5,459.62 L315,459.62 L315.5,459.62 L316,459.62 L316.5,459.62 L317,459.62 L317.5,459.62 L318,459.62" fill="none" stroke="#f79d4a" stroke-width="1.7" stroke-linejoin="round"/>
<path d="M170.5,455.99 L171,456 L171.5,456.01 L172,456.01 L172.5,456.02 L173,456.02 L173.5,456.03 L174,456.04 L174.5,456.04 L175,456.05 L175.5,456.06 L176,456.07 L176.5,456.08 L177,456.08 L177.5,456.09 L178,456.1 L178.5,456.11 L179,456.12 L179.5,456.13 L180,456.14 L180.5,456.16 L181,456.17 L181.5,456.18 L182,456.19 L182.5,456.2 L183,456.22 L183.5,456.23 L184,456.24 L184.5,456.25 L185,456.27 L185.5,456.28 L186,456.3 L186.5,456.31 L187,456.33 L187.5,456.34 L188,456.36 L188.5,456.37 L189,456.39 L189.5,456.4 L190,456.42 L190.5,456.44 L191,456.45 L191.5,456.47 L192,456.49 L192.5,456.5 L193,456.52 L193.5,456.54 L194,456.56 L194.5,456.57 L195,456.59 L195.5,456.61 L196,456.62 L196.5,456.64 L197,456.66 L197.5,456.68 L198,456.69 L198.5,456.71 L199,456.73 L199.5,456.74 L200,456.76 L200.5,456.78 L201,456.8 L201.5,456.81 L202,456.83 L202.5,456.85 L203,456.86 L203.5,456.88 L204,456.9 L204.5,456.91 L205,456.93 L205.5,456.95 L206,456.96 L206.5,456.98 L207,456.99 L207.5,457.01 L208,457.03 L208.5,457.04 L209,457.06 L209.5,457.08 L210,457.09 L210.5,457.11 L211,457.13 L211.5,457.14 L212,457.16 L212.5,457.18 L213,457.19 L213.5,457.21 L214,457.23 L214.5,457.25 L215,457.26 L215.5,457.28 L216,457.3 L216.5,457.32 L217,457.34 L217.5,457.35 L218,457.37 L218.5,457.39 L219,457.41 L219.5,457.43 L220,457.45 L220.5,457.47 L221,457.49 L221.5,457.51 L222,457.53 L222.5,457.55 L223,457.57 L223.5,457.59 L224,457.61 L224.5,457.63 L225,457.65 L225.5,457.67 L226,457.69 L226.5,457.71 L227,457.73 L227.5,457.75 L228,457.77 L228.5,457.79 L229,457.81 L229.5,457.83 L230,457.84 L230.5,457.86 L231,457.87 L231.5,457.89 L232,457.9 L232.5,457.91 L233,457.92 L233.5,457.93 L234,457.94 L234.5,457.94 L235,457.94 L235.5,457.94 L236,457.94 L236.5,457.93 L237,457.93 L237.5,457.91 L238,457.9 L238.5,457.88 L239,457.86 L239.5,457.83 L240,457.8 L240.5,457.76 L241,457.72 L241.5,457.67 L242,457.62 L242.5,457.56 L243,457.49 L243.5,457.42 L244,457.34 L244.5,457.25 L245,457.15 L245.5,457.05 L246,456.94 L246.5,456.81 L247,456.68 L247.5,456.54 L248,456.39 L248.5,456.23 L249,456.06 L249.5,455.88 L250,455.69 L250.5,455.48 L251,455.26 L251.5,455.04 L252,454.8 L252.5,454.54 L253,454.28 L253.5,454 L254,453.72 L254.5,453.41 L255,453.1 L255.5,452.78 L256,452.44 L256.5,452.09 L257,451.73 L257.5,451.36 L258,450.98 L258.5,450.59 L259,450.19 L259.5,449.78 L260,449.37 L260.5,448.94 L261,448.51 L261.5,448.07 L262,447.63 L262.5,447.18 L263,446.73 L263.5,446.28 L264,445.83 L264.5,445.37 L265,444.92 L265.5,444.47 L266,444.03 L266.5,443.58 L267,443.15 L267.5,442.72 L268,442.31 L268.5,441.9 L269,441.51 L269.5,441.13 L270,440.76 L270.5,440.41 L271,440.08 L271.5,439.77 L272,439.47 L272.5,439.2 L273,438.95 L273.5,438.73 L274,438.53 L274.5,438.35 L275,438.2 L275.5,438.08 L276,437.99 L276.5,437.92 L277,437.88 L277.5,437.87 L278,437.91 L278.5,438 L279,438.14 L279.5,438.34 L280,438.6 L280.5,438.9 L281,439.25 L281.5,439.64 L282,440.08 L282.5,440.55 L283,441.06 L283.5,441.59 L284,442.16 L284.5,442.75 L285,443.35 L285.5,443.97 L286,444.61 L286.5,445.25 L287,445.9 L287.5,446.54 L288,447.19 L288.5,447.83 L289,448.46 L289.5,449.09 L290,449.7 L290.5,450.29 L291,450.87 L291.5,451.43 L292,451.97 L292.5,452.49 L293,452.99 L293.5,453.47 L294,453.93 L294.5,454.36 L295,454.77 L295.5,455.15 L296,455.51 L296.5,455.85 L297,456.17 L297.5,456.47 L298,456.74 L298.5,457 L299,457.23 L299.5,457.45 L300,457.65 L300.5,457.83 L301,458 L301.5,458.15 L302,458.29 L302.5,458.42 L303,458.53 L303.5,458.64 L304,458.73 L304.5,458.81 L305,458.89 L305.5,458.96 L306,459.02 L306.5,459.07 L307,459.12 L307.5,459.16 L308,459.2 L308.5,459.24 L309,459.27 L309.5,459.3 L310,459.32 L310.5,459.34 L311,459.36 L311.5,459.38 L312,459.4 L312.5,459.41 L313,459.42 L313.5,459.43 L314,459.44 L314.5,459.45 L315,459.46 L315.5,459.47 L316,459.48 L316.5,459.48 L317,459.49 L317.5,459.5 L318,459.5 L318.5,459.51 L319,459.51 L319.5,459.51 L320,459.52 L320.5,459.52 L321,459.53 L321.5,459.53 L322,459.53 L322.5,459.54 L323,459.54 L323.5,459.54 L324,459.55 L324.5,459.55 L325,459.55 L325.5,459.55 L326,459.56 L326.5,459.56 L327,459.56 L327.5,459.56 L328,459.57 L328.5,459.57 L329,459.57 L329.5,459.57 L330,459.57 L330.5,459.58 L331,459.58 L331.5,459.58 L332,459.58 L332.5,459.58 L333,459.59" fill="none" stroke="#f79d4a" stroke-width="1.7" stroke-linejoin="round"/>
<path d="M114,455.93 L114.5,455.93 L115,455.93 L115.5,455.93 L116,455.93 L116.5,455.93 L117,455.93 L117.5,455.93 L118,455.93 L118.5,455.93 L119,455.94 L119.5,455.94 L120,455.94 L120.5,455.94 L121,455.94 L121.5,455.94 L122,455.94 L122.5,455.94 L123,455.94 L123.5,455.94 L124,455.94 L124.5,455.94 L125,455.94 L125.5,455.94 L126,455.94 L126.5,455.94 L127,455.94 L127.5,455.94 L128,455.94 L128.5,455.94 L129,455.94 L129.5,455.94 L130,455.94 L130.5,455.94 L131,455.94 L131.5,455.94 L132,455.94 L132.5,455.94 L133,455.94 L133.5,455.94 L134,455.94 L134.5,455.94 L135,455.94 L135.5,455.94 L136,455.94 L136.5,455.94 L137,455.94 L137.5,455.94 L138,455.94 L138.5,455.94 L139,455.94 L139.5,455.94 L140,455.94 L140.5,455.94 L141,455.94 L141.5,455.94 L142,455.95 L142.5,455.95 L143,455.95 L143.5,455.95 L144,455.95 L144.5,455.95 L145,455.95 L145.5,455.95 L146,455.95 L146.5,455.95 L147,455.95 L147.5,455.95 L148,455.95 L148.5,455.95 L149,455.95 L149.5,455.95 L150,455.95 L150.5,455.95 L151,455.95 L151.5,455.95 L152,455.95 L152.5,455.96 L153,455.96 L153.5,455.96 L154,455.96 L154.5,455.96 L155,455.96 L155.5,455.96 L156,455.96 L156.5,455.96 L157,455.96 L157.5,455.97 L158,455.97 L158.5,455.97 L159,455.97 L159.5,455.97 L160,455.97 L160.5,455.98 L161,455.98 L161.5,455.98 L162,455.98 L162.5,455.98 L163,455.99 L163.5,455.99 L164,455.99 L164.5,455.99 L165,456 L165.5,456 L166,456 L166.5,456.01 L167,456.01 L167.5,456.02 L168,456.02 L168.5,456.02 L169,456.03 L169.5,456.03 L170,456.04 L170.5,456.05 L171,456.05 L171.5,456.06 L172,456.06 L172.5,456.07 L173,456.08 L173.5,456.08 L174,456.09 L174.5,456.1 L175,456.11 L175.5,456.11 L176,456.12 L176.5,456.13 L177,456.14 L177.5,456.15 L178,456.16 L178.5,456.17 L179,456.18 L179.5,456.19 L180,456.2 L180.5,456.22 L181,456.23 L181.5,456.24 L182,456.25 L182.5,456.27 L183,456.28 L183.5,456.29 L184,456.31 L184.5,456.32 L185,456.34 L185.5,456.35 L186,456.37 L186.5,456.38 L187,456.4 L187.5,456.41 L188,456.43 L188.5,456.44 L189,456.46 L189.5,456.48 L190,456.5 L190.5,456.51 L191,456.53 L191.5,456.55 L192,456.56 L192.5,456.58 L193,456.6 L193.5,456.62 L194,456.64 L194.5,456.65 L195,456.67 L195.5,456.69 L196,456.71 L196.5,456.73 L197,456.75 L197.5,456.76 L198,456.78 L198.5,456.8 L199,456.82 L199.5,456.84 L200,456.86 L200.5,456.87 L201,456.89 L201.5,456.91 L202,456.93 L202.5,456.95 L203,456.96 L203.5,456.98 L204,457 L204.5,457.02 L205,457.04 L205.5,457.05 L206,457.07 L206.5,457.09 L207,457.11 L207.5,457.12 L208,457.14 L208.5,457.16 L209,457.18 L209.5,457.2 L210,457.22 L210.5,457.23 L211,457.25 L211.5,457.27 L212,457.29 L212.5,457.31 L213,457.33 L213.5,457.35 L214,457.37 L214.5,457.39 L215,457.41 L215.5,457.43 L216,457.45 L216.5,457.47 L217,457.49 L217.5,457.51 L218,457.53 L218.5,457.55 L219,457.57 L219.5,457.6 L220,457.62 L220.5,457.64 L221,457.67 L221.5,457.69 L222,457.71 L222.5,457.74 L223,457.76 L223.5,457.79 L224,457.81 L224.5,457.84 L225,457.86 L225.5,457.89 L226,457.92 L226.5,457.94 L227,457.97 L227.5,458 L228,458.03 L228.5,458.05 L229,458.08 L229.5,458.11 L230,458.14 L230.5,458.17 L231,458.19 L231.5,458.22 L232,458.25 L232.5,458.28 L233,458.31 L233.5,458.34 L234,458.36 L234.5,458.39 L235,458.42 L235.5,458.45 L236,458.48 L236.5,458.5 L237,458.53 L237.5,458.56 L238,458.58 L238.5,458.61 L239,458.64 L239.5,458.66 L240,458.69 L240.5,458.71 L241,458.74 L241.5,458.76 L242,458.78 L242.5,458.81 L243,458.83 L243.5,458.85 L244,458.87 L244.5,458.89 L245,458.91 L245.5,458.93 L246,458.95 L246.5,458.97 L247,458.99 L247.5,459.01 L248,459.02 L248.5,459.04 L249,459.06 L249.5,459.07 L250,459.09 L250.5,459.1 L251,459.12 L251.5,459.13 L252,459.14 L252.5,459.16 L253,459.17 L253.5,459.18 L254,459.19 L254.5,459.2 L255,459.21 L255.5,459.22 L256,459.23 L256.5,459.24 L257,459.25 L257.5,459.26 L258,459.27 L258.5,459.28 L259,459.29 L259.5,459.3 L260,459.3 L260.5,459.31 L261,459.32 L261.5,459.33 L262,459.33 L262.5,459.34 L263,459.35 L263.5,459.35 L264,459.36 L264.5,459.37 L265,459.37 L265.5,459.38 L266,459.39 L266.5,459.39 L267,459.4 L267.5,459.41 L268,459.41 L268.5,459.42 L269,459.42 L269.5,459.43 L270,459.44 L270.5,459.44 L271,459.45 L271.5,459.45 L272,459.46 L272.5,459.47 L273,459.47 L273.5,459.48 L274,459.48 L274.5,459.49 L275,459.49 L275.5,459.5 L276,459.51 L276.5,459.51 L277,459.52 L277.5,459.52 L278,459.53 L278.5,459.54 L279,459.54 L279.5,459.55 L280,459.55 L280.5,459.56 L281,459.56 L281.5,459.57 L282,459.57 L282.5,459.58 L283,459.58 L283.5,459.59 L284,459.59 L284.5,459.6 L285,459.6 L285.5,459.6 L286,459.61 L286.5,459.61 L287,459.62 L287.5,459.62 L288,459.62 L288.5,459.63 L289,459.63 L289.5,459.63 L290,459.63 L290.5,459.64 L291,459.64 L291.5,459.64 L292,459.64 L292.5,459.65 L293,459.65 L293.5,459.65 L294,459.65 L294.5,459.65 L295,459.65 L295.5,459.65 L296,459.66 L296.5,459.66 L297,459.66 L297.5,459.66 L298,459.66 L298.5,459.66 L299,459.66 L299.5,459.66 L300,459.66 L300.5,459.66 L301,459.66 L301.5,459.67 L302,459.67 L302.5,459.67 L303,459.67 L303.5,459.67 L304,459.67 L304.5,459.67 L305,459.67 L305.5,459.67 L306,459.67 L306.5,459.67 L307,459.67 L307.5,459.67 L308,459.67 L308.5,459.67 L309,459.67 L309.5,459.67 L310,459.67 L310.5,459.67 L311,459.67 L311.5,459.67 L312,459.67 L312.5,459.67 L313,459.67 L313.5,459.67 L314,459.67 L314.5,459.67 L315,459.67 L315.5,459.67 L316,459.67 L316.5,459.67 L317,459.67 L317.5,459.67 L318,459.67 L318.5,459.68 L319,459.68 L319.5,459.68 L320,459.68 L320.5,459.68 L321,459.68 L321.5,459.68 L322,459.68 L322.5,459.68 L323,459.68 L323.5,459.68 L324,459.68 L324.5,459.68 L325,459.68 L325.5,459.68 L326,459.68 L326.5,459.68 L327,459.68 L327.5,459.68 L328,459.68 L328.5,459.68 L329,459.68 L329.5,459.68 L330,459.68 L330.5,459.68 L331,459.68 L331.5,459.68 L332,459.68 L332.5,459.68 L333,459.68" fill="none" stroke="#8c8c8c" stroke-width="1.5"/>
<path d="M114,455.32 L114.5,455.32 L115,455.31 L115.5,455.31 L116,455.3 L116.5,455.29 L117,455.29 L117.5,455.28 L118,455.27 L118.5,455.27 L119,455.26 L119.5,455.25 L120,455.24 L120.5,455.24 L121,455.23 L121.5,455.22 L122,455.21 L122.5,455.21 L123,455.2 L123.5,455.19 L124,455.18 L124.5,455.17 L125,455.16 L125.5,455.15 L126,455.14 L126.5,455.13 L127,455.12 L127.5,455.11 L128,455.1 L128.5,455.09 L129,455.08 L129.5,455.07 L130,455.06 L130.5,455.05 L131,455.04 L131.5,455.02 L132,455.01 L132.5,455 L133,454.98 L133.5,454.97 L134,454.95 L134.5,454.94 L135,454.92 L135.5,454.9 L136,454.88 L136.5,454.86 L137,454.84 L137.5,454.82 L138,454.8 L138.5,454.78 L139,454.75 L139.5,454.73 L140,454.7 L140.5,454.67 L141,454.64 L141.5,454.6 L142,454.57 L142.5,454.53 L143,454.49 L143.5,454.44 L144,454.39 L144.5,454.34 L145,454.29 L145.5,454.23 L146,454.17 L146.5,454.1 L147,454.02 L147.5,453.95 L148,453.86 L148.5,453.77 L149,453.67 L149.5,453.57 L150,453.46 L150.5,453.33 L151,453.2 L151.5,453.06 L152,452.91 L152.5,452.75 L153,452.58 L153.5,452.4 L154,452.2 L154.5,451.99 L155,451.76 L155.5,451.52 L156,451.26 L156.5,450.98 L157,450.69 L157.5,450.38 L158,450.05 L158.5,449.69 L159,449.32 L159.5,448.92 L160,448.5 L160.5,448.06 L161,447.58 L161.5,447.09 L162,446.56 L162.5,446.01 L163,445.43 L163.5,444.82 L164,444.18 L164.5,443.51 L165,442.81 L165.5,442.08 L166,441.31 L166.5,440.51 L167,439.68 L167.5,438.82 L168,437.92 L168.5,436.98 L169,436.02 L169.5,435.02 L170,433.99 L170.5,432.92 L171,431.82 L171.5,430.7 L172,429.54 L172.5,428.35 L173,427.13 L173.5,425.89 L174,424.61 L174.5,423.32 L175,422 L175.5,420.66 L176,419.3 L176.5,417.93 L177,416.53 L177.5,415.13 L178,413.72 L178.5,412.29 L179,410.87 L179.5,409.44 L180,408.01 L180.5,406.58 L181,405.16 L181.5,403.75 L182,402.36 L182.5,400.97 L183,399.61 L183.5,398.27 L184,396.95 L184.5,395.66 L185,394.41 L185.5,393.19 L186,392 L186.5,390.86 L187,389.76 L187.5,388.7 L188,387.69 L188.5,386.74 L189,385.83 L189.5,384.98 L190,384.19 L190.5,383.45 L191,382.77 L191.5,382.16 L192,381.6 L192.5,381.1 L193,380.66 L193.5,380.27 L194,379.95 L194.5,379.68 L195,379.46 L195.5,379.29 L196,379.17 L196.5,379.1 L197,379.06 L197.5,379.07 L198,379.11 L198.5,379.18 L199,379.29 L199.5,379.41 L200,379.55 L200.5,379.71 L201,379.88 L201.5,380.05 L202,380.22 L202.5,380.39 L203,380.56 L203.5,380.71 L204,380.84 L204.5,380.95 L205,381.04 L205.5,381.09 L206,381.11 L206.5,381.1 L207,381.04 L207.5,380.94 L208,380.8 L208.5,380.6 L209,380.35 L209.5,380.05 L210,379.69 L210.5,379.27 L211,378.8 L211.5,378.26 L212,377.66 L212.5,377.01 L213,376.29 L213.5,375.51 L214,374.67 L214.5,373.78 L215,372.82 L215.5,371.82 L216,370.76 L216.5,369.65 L217,368.5 L217.5,367.3 L218,366.06 L218.5,364.79 L219,363.49 L219.5,362.16 L220,360.81 L220.5,359.45 L221,358.08 L221.5,356.7 L222,355.32 L222.5,353.95 L223,352.59 L223.5,351.25 L224,349.94 L224.5,348.66 L225,347.42 L225.5,346.23 L226,345.09 L226.5,344.01 L227,342.99 L227.5,342.04 L228,341.17 L228.5,340.38 L229,339.68 L229.5,339.08 L230,338.57 L230.5,338.16 L231,337.85 L231.5,337.66 L232,337.58 L232.5,337.61 L233,337.76 L233.5,338.04 L234,338.43 L234.5,338.95 L235,339.58 L235.5,340.34 L236,341.21 L236.5,342.2 L237,343.3 L237.5,344.51 L238,345.83 L238.5,347.25 L239,348.76 L239.5,350.37 L240,352.07 L240.5,353.85 L241,355.7 L241.5,357.63 L242,359.62 L242.5,361.66 L243,363.76 L243.5,365.9 L244,368.08 L244.5,370.29 L245,372.53 L245.5,374.78 L246,377.05 L246.5,379.32 L247,381.59 L247.5,383.85 L248,386.1 L248.5,388.34 L249,390.55 L249.5,392.73 L250,394.88 L250.5,396.99 L251,399.06 L251.5,401.09 L252,403.06 L252.5,404.98 L253,406.85 L253.5,408.65 L254,410.4 L254.5,412.08 L255,413.69 L255.5,415.24 L256,416.72 L256.5,418.13 L257,419.48 L257.5,420.75 L258,421.95 L258.5,423.09 L259,424.15 L259.5,425.15 L260,426.08 L260.5,426.95 L261,427.75 L261.5,428.49 L262,429.17 L262.5,429.79 L263,430.35 L263.5,430.86 L264,431.32 L264.5,431.74 L265,432.1 L265.5,432.43 L266,432.71 L266.5,432.96 L267,433.17 L267.5,433.35 L268,433.51 L268.5,433.64 L269,433.75 L269.5,433.84 L270,433.91 L270.5,433.98 L271,434.03 L271.5,434.07 L272,434.12 L272.5,434.16 L273,434.2 L273.5,434.24 L274,434.29 L274.5,434.35 L275,434.41 L275.5,434.49 L276,434.59 L276.5,434.69 L277,434.81 L277.5,434.95 L278,435.13 L278.5,435.34 L279,435.61 L279.5,435.91 L280,436.27 L280.5,436.66 L281,437.1 L281.5,437.57 L282,438.08 L282.5,438.63 L283,439.2 L283.5,439.8 L284,440.42 L284.5,441.06 L285,441.71 L285.5,442.38 L286,443.06 L286.5,443.74 L287,444.42 L287.5,445.11 L288,445.79 L288.5,446.46 L289,447.12 L289.5,447.77 L290,448.41 L290.5,449.03 L291,449.63 L291.5,450.22 L292,450.78 L292.5,451.32 L293,451.84 L293.5,452.34 L294,452.81 L294.5,453.26 L295,453.69 L295.5,454.09 L296,454.47 L296.5,454.82 L297,455.15 L297.5,455.46 L298,455.75 L298.5,456.02 L299,456.27 L299.5,456.5 L300,456.71 L300.5,456.91 L301,457.09 L301.5,457.25 L302,457.4 L302.5,457.54 L303,457.67 L303.5,457.78 L304,457.89 L304.5,457.98 L305,458.07 L305.5,458.15 L306,458.22 L306.5,458.28 L307,458.34 L307.5,458.39 L308,458.44 L308.5,458.48 L309,458.52 L309.5,458.56 L310,458.59 L310.5,458.62 L311,458.65 L311.5,458.67 L312,458.7 L312.5,458.72 L313,458.74 L313.5,458.76 L314,458.78 L314.5,458.79 L315,458.81 L315.5,458.82 L316,458.84 L316.5,458.85 L317,458.86 L317.5,458.88 L318,458.89 L318.5,458.9 L319,458.91 L319.5,458.92 L320,458.93 L320.5,458.94 L321,458.95 L321.5,458.96 L322,458.97 L322.5,458.98 L323,458.99 L323.5,459 L324,459 L324.5,459.01 L325,459.02 L325.5,459.03 L326,459.04 L326.5,459.04 L327,459.05 L327.5,459.06 L328,459.06 L328.5,459.07 L329,459.08 L329.5,459.08 L330,459.09 L330.5,459.1 L331,459.1 L331.5,459.11 L332,459.12 L332.5,459.12 L333,459.13" fill="none" stroke="#f00000" stroke-width="1.95" stroke-linejoin="round"/>
<path d="M58.6,448.37h0M60.17,448.71h0M61.73,446.24h0M63.3,448.24h0M64.87,449.39h0M66.43,451.24h0M68,448.33h0M69.57,449.62h0M71.13,450.19h0M72.7,450.76h0M74.27,451.01h0M75.83,452.32h0M77.4,451.34h0M78.97,453h0M80.53,452.38h0M82.1,452.71h0M83.67,453.28h0M85.23,452.38h0M86.8,454.65h0M88.37,454.14h0M89.93,453.71h0M91.5,454.87h0M93.07,456.16h0M94.63,454.48h0M96.2,454.64h0M97.77,455.28h0M99.33,455.51h0M100.9,455.34h0M102.47,453.62h0M104.03,456.39h0M105.6,456.19h0M107.17,456.49h0M108.73,456.56h0M110.3,457.21h0M111.87,456.06h0M113.43,455.93h0M115,455.73h0M116.57,455.12h0M118.13,454.89h0M119.7,453.9h0M121.27,454.77h0M122.83,453.6h0M124.4,454.11h0M125.97,452.39h0M127.53,453.14h0M129.1,453.2h0M130.67,451.95h0M132.23,450.54h0M133.8,449.77h0M135.37,449.74h0M136.93,447.4h0M138.5,447.89h0M140.07,447.86h0M141.63,446.5h0M143.2,446.16h0M144.77,446.02h0M146.33,445.56h0M147.9,445.73h0M149.47,444.57h0M151.03,443.85h0M152.6,443.96h0M154.17,443.17h0M155.73,442.75h0M157.3,442.44h0M158.87,440.58h0M160.43,440.51h0M162,440.37h0M163.57,438.31h0M165.13,436.56h0M166.7,434.7h0M168.27,430.66h0M169.83,429.48h0M171.4,423.22h0M172.97,421.36h0M174.53,416.41h0M176.1,416.13h0M177.67,414.09h0M179.23,406.17h0M180.8,404.16h0M182.37,401.48h0M183.93,397.83h0M185.5,396.45h0M187.07,390.21h0M188.63,388.73h0M190.2,385.93h0M191.77,384.19h0M193.33,382.58h0M194.9,383.39h0M196.47,381.69h0M198.03,381.88h0M199.6,381.11h0M201.17,380.31h0M202.73,383.07h0M204.3,383.43h0M205.87,384.35h0M207.43,382.8h0M209,383.87h0M210.57,383.22h0M212.13,381.28h0M213.7,379.59h0M215.27,376.99h0M216.83,371.24h0M218.4,366.82h0M219.97,363.38h0M221.53,359.89h0M223.1,355.54h0M224.67,350.45h0M226.23,346.14h0M227.8,342.29h0M229.37,339.31h0M230.93,334.5h0M232.5,331.73h0M234.07,332.71h0M235.63,339.82h0M237.2,344.25h0M238.77,347.98h0M240.33,352.71h0M241.9,359.26h0M243.47,365.16h0M245.03,373.95h0M246.6,379.59h0M248.17,385.61h0M249.73,393.9h0M251.3,399.27h0M252.87,406.34h0M254.43,411.21h0M256,415.87h0M257.57,420.61h0M259.13,424.14h0M260.7,426.2h0M262.27,427.89h0M263.83,430.3h0M265.4,431.78h0M266.97,432.89h0M268.53,433.26h0M270.1,433.4h0M271.67,433.55h0M273.23,433.26h0M274.8,432.79h0M276.37,432.06h0M277.93,434.21h0M279.5,435.4h0M281.07,437.04h0M282.63,437.83h0M284.2,439.68h0M285.77,443.35h0M287.33,445h0M288.9,446.91h0M290.47,448.54h0M292.03,448.88h0M293.6,451.75h0M295.17,451.4h0M296.73,452.92h0M298.3,452.96h0M299.87,454.3h0M301.43,457.51h0M303,457.85h0M304.57,456.26h0M306.13,457.68h0M307.7,458.26h0M309.27,458.4h0M310.83,459.46h0M312.4,456.94h0M313.97,457.89h0M315.53,459.32h0M317.1,459.48h0M318.67,458.94h0M320.23,458.29h0M321.8,458.12h0M323.37,458.37h0M324.93,458.9h0M326.5,460.13h0M328.07,458.54h0M329.63,459.17h0M331.2,461.42h0M332.77,460.41h0M334.33,459.69h0M335.9,459.15h0M337.47,460.74h0" stroke="#000" stroke-width="4.6" stroke-linecap="round" fill="none"/>
<path d="M114,598.7 L114.5,598.7 L115,598.7 L115.5,598.7 L116,598.69 L116.5,598.69 L117,598.69 L117.5,598.69 L118,598.69 L118.5,598.69 L119,598.69 L119.5,598.69 L120,598.68 L120.5,598.68 L121,598.68 L121.5,598.68 L122,598.68 L122.5,598.68 L123,598.67 L123.5,598.67 L124,598.67 L124.5,598.67 L125,598.67 L125.5,598.67 L126,598.67 L126.5,598.66 L127,598.66 L127.5,598.66 L128,598.66 L128.5,598.66 L129,598.65 L129.5,598.65 L130,598.65 L130.5,598.65 L131,598.65 L131.5,598.65 L132,598.64 L132.5,598.64 L133,598.64 L133.5,598.64 L134,598.64 L134.5,598.63 L135,598.63 L135.5,598.63 L136,598.63 L136.5,598.62 L137,598.62 L137.5,598.62 L138,598.62 L138.5,598.62 L139,598.61 L139.5,598.61 L140,598.61 L140.5,598.61 L141,598.6 L141.5,598.6 L142,598.6 L142.5,598.59 L143,598.59 L143.5,598.59 L144,598.59 L144.5,598.58 L145,598.58 L145.5,598.58 L146,598.58 L146.5,598.57 L147,598.57 L147.5,598.57 L148,598.56 L148.5,598.56 L149,598.56 L149.5,598.55 L150,598.55 L150.5,598.55 L151,598.54 L151.5,598.54 L152,598.54 L152.5,598.53 L153,598.53 L153.5,598.52 L154,598.52 L154.5,598.52 L155,598.51 L155.5,598.51 L156,598.51 L156.5,598.5 L157,598.5 L157.5,598.49 L158,598.49 L158.5,598.48 L159,598.48 L159.5,598.48 L160,598.47 L160.5,598.47 L161,598.46 L161.5,598.46 L162,598.45 L162.5,598.45 L163,598.44 L163.5,598.44 L164,598.43 L164.5,598.43 L165,598.43 L165.5,598.42 L166,598.42 L166.5,598.41 L167,598.41 L167.5,598.4 L168,598.4 L168.5,598.39 L169,598.39 L169.5,598.38 L170,598.38 L170.5,598.37 L171,598.37 L171.5,598.36 L172,598.36 L172.5,598.35 L173,598.35 L173.5,598.34 L174,598.34 L174.5,598.33 L175,598.33 L175.5,598.32 L176,598.32 L176.5,598.32 L177,598.31 L177.5,598.31 L178,598.3 L178.5,598.3 L179,598.29 L179.5,598.28 L180,598.28 L180.5,598.27 L181,598.27 L181.5,598.26 L182,598.25 L182.5,598.24 L183,598.23 L183.5,598.23 L184,598.21 L184.5,598.2 L185,598.19 L185.5,598.18 L186,598.16 L186.5,598.14 L187,598.12 L187.5,598.1 L188,598.07 L188.5,598.05 L189,598.01 L189.5,597.98 L190,597.94 L190.5,597.9 L191,597.85 L191.5,597.79 L192,597.73 L192.5,597.67 L193,597.59 L193.5,597.51 L194,597.42 L194.5,597.32 L195,597.21 L195.5,597.09 L196,596.96 L196.5,596.82 L197,596.66 L197.5,596.49 L198,596.3 L198.5,596.09 L199,595.87 L199.5,595.62 L200,595.36 L200.5,595.07 L201,594.76 L201.5,594.43 L202,594.07 L202.5,593.68 L203,593.26 L203.5,592.82 L204,592.34 L204.5,591.83 L205,591.28 L205.5,590.69 L206,590.07 L206.5,589.41 L207,588.71 L207.5,587.96 L208,587.17 L208.5,586.34 L209,585.46 L209.5,584.53 L210,583.56 L210.5,582.53 L211,581.46 L211.5,580.33 L212,579.16 L212.5,577.93 L213,576.65 L213.5,575.32 L214,573.94 L214.5,572.51 L215,571.02 L215.5,569.49 L216,567.91 L216.5,566.28 L217,564.61 L217.5,562.9 L218,561.14 L218.5,559.34 L219,557.51 L219.5,555.64 L220,553.74 L220.5,551.82 L221,549.87 L221.5,547.9 L222,545.92 L222.5,543.92 L223,541.92 L223.5,539.91 L224,537.91 L224.5,535.92 L225,533.94 L225.5,531.99 L226,530.05 L226.5,528.15 L227,526.28 L227.5,524.46 L228,522.68 L228.5,520.96 L229,519.3 L229.5,517.71 L230,516.19 L230.5,514.75 L231,513.39 L231.5,512.13 L232,510.95 L232.5,509.88 L233,508.91 L233.5,508.05 L234,507.3 L234.5,506.67 L235,506.16 L235.5,505.77 L236,505.5 L236.5,505.36 L237,505.35 L237.5,505.48 L238,505.77 L238.5,506.22 L239,506.83 L239.5,507.59 L240,508.51 L240.5,509.57 L241,510.76 L241.5,512.09 L242,513.54 L242.5,515.11 L243,516.8 L243.5,518.58 L244,520.45 L244.5,522.41 L245,524.45 L245.5,526.55 L246,528.71 L246.5,530.92 L247,533.17 L247.5,535.45 L248,537.76 L248.5,540.08 L249,542.4 L249.5,544.73 L250,547.06 L250.5,549.36 L251,551.65 L251.5,553.91 L252,556.14 L252.5,558.34 L253,560.49 L253.5,562.59 L254,564.65 L254.5,566.65 L255,568.59 L255.5,570.48 L256,572.3 L256.5,574.06 L257,575.76 L257.5,577.39 L258,578.95 L258.5,580.45 L259,581.88 L259.5,583.24 L260,584.54 L260.5,585.77 L261,586.94 L261.5,588.04 L262,589.08 L262.5,590.07 L263,590.99 L263.5,591.86 L264,592.68 L264.5,593.44 L265,594.15 L265.5,594.82 L266,595.44 L266.5,596.01 L267,596.55 L267.5,597.04 L268,597.5 L268.5,597.93 L269,598.32 L269.5,598.68 L270,599.01 L270.5,599.32 L271,599.6 L271.5,599.86 L272,600.09 L272.5,600.31 L273,600.51 L273.5,600.69 L274,600.85 L274.5,601 L275,601.14 L275.5,601.27 L276,601.38 L276.5,601.48 L277,601.58 L277.5,601.67 L278,601.75 L278.5,601.82 L279,601.88 L279.5,601.94 L280,602 L280.5,602.05 L281,602.1 L281.5,602.14 L282,602.18 L282.5,602.21 L283,602.25 L283.5,602.28 L284,602.31 L284.5,602.33 L285,602.36 L285.5,602.38 L286,602.41 L286.5,602.43 L287,602.45 L287.5,602.46 L288,602.48 L288.5,602.5 L289,602.51 L289.5,602.53 L290,602.54 L290.5,602.56 L291,602.57 L291.5,602.58 L292,602.6 L292.5,602.61 L293,602.62 L293.5,602.63 L294,602.64 L294.5,602.65 L295,602.66 L295.5,602.67 L296,602.68 L296.5,602.69 L297,602.7 L297.5,602.71 L298,602.72 L298.5,602.73 L299,602.73 L299.5,602.74 L300,602.75 L300.5,602.76 L301,602.77 L301.5,602.77 L302,602.78 L302.5,602.79 L303,602.79 L303.5,602.8 L304,602.81 L304.5,602.81 L305,602.82 L305.5,602.83 L306,602.83 L306.5,602.84 L307,602.84 L307.5,602.85 L308,602.86 L308.5,602.86 L309,602.87 L309.5,602.87 L310,602.88 L310.5,602.88 L311,602.89 L311.5,602.89 L312,602.9 L312.5,602.9 L313,602.91 L313.5,602.91 L314,602.92 L314.5,602.92 L315,602.92 L315.5,602.93 L316,602.93 L316.5,602.94 L317,602.94 L317.5,602.94 L318,602.95 L318.5,602.95 L319,602.96 L319.5,602.96 L320,602.96 L320.5,602.97 L321,602.97 L321.5,602.97 L322,602.98 L322.5,602.98 L323,602.98 L323.5,602.99 L324,602.99 L324.5,602.99 L325,603 L325.5,603 L326,603 L326.5,603 L327,603.01 L327.5,603.01 L328,603.01 L328.5,603.02 L329,603.02 L329.5,603.02 L330,603.02 L330.5,603.03 L331,603.03 L331.5,603.03 L332,603.03 L332.5,603.04 L333,603.04" fill="none" stroke="#128a26" stroke-width="1.7" stroke-linejoin="round"/>
<path d="M114,598.67 L114.5,598.67 L115,598.67 L115.5,598.66 L116,598.66 L116.5,598.66 L117,598.66 L117.5,598.65 L118,598.65 L118.5,598.65 L119,598.65 L119.5,598.64 L120,598.64 L120.5,598.64 L121,598.64 L121.5,598.63 L122,598.63 L122.5,598.63 L123,598.62 L123.5,598.62 L124,598.62 L124.5,598.62 L125,598.61 L125.5,598.61 L126,598.61 L126.5,598.6 L127,598.6 L127.5,598.6 L128,598.59 L128.5,598.59 L129,598.58 L129.5,598.58 L130,598.58 L130.5,598.57 L131,598.57 L131.5,598.56 L132,598.56 L132.5,598.55 L133,598.55 L133.5,598.55 L134,598.54 L134.5,598.54 L135,598.53 L135.5,598.53 L136,598.52 L136.5,598.51 L137,598.51 L137.5,598.5 L138,598.5 L138.5,598.49 L139,598.48 L139.5,598.48 L140,598.47 L140.5,598.46 L141,598.46 L141.5,598.45 L142,598.44 L142.5,598.43 L143,598.42 L143.5,598.41 L144,598.4 L144.5,598.39 L145,598.38 L145.5,598.37 L146,598.36 L146.5,598.34 L147,598.33 L147.5,598.32 L148,598.3 L148.5,598.28 L149,598.26 L149.5,598.24 L150,598.22 L150.5,598.2 L151,598.17 L151.5,598.15 L152,598.12 L152.5,598.08 L153,598.05 L153.5,598.01 L154,597.97 L154.5,597.92 L155,597.87 L155.5,597.82 L156,597.76 L156.5,597.7 L157,597.63 L157.5,597.55 L158,597.47 L158.5,597.38 L159,597.28 L159.5,597.18 L160,597.06 L160.5,596.94 L161,596.8 L161.5,596.66 L162,596.5 L162.5,596.33 L163,596.14 L163.5,595.94 L164,595.73 L164.5,595.5 L165,595.25 L165.5,594.98 L166,594.7 L166.5,594.39 L167,594.06 L167.5,593.71 L168,593.34 L168.5,592.94 L169,592.52 L169.5,592.07 L170,591.59 L170.5,591.09 L171,590.55 L171.5,589.99 L172,589.4 L172.5,588.77 L173,588.12 L173.5,587.43 L174,586.7 L174.5,585.95 L175,585.16 L175.5,584.34 L176,583.49 L176.5,582.6 L177,581.68 L177.5,580.72 L178,579.74 L178.5,578.72 L179,577.68 L179.5,576.6 L180,575.5 L180.5,574.37 L181,573.22 L181.5,572.05 L182,570.86 L182.5,569.64 L183,568.42 L183.5,567.18 L184,565.93 L184.5,564.67 L185,563.41 L185.5,562.15 L186,560.89 L186.5,559.63 L187,558.39 L187.5,557.16 L188,555.95 L188.5,554.76 L189,553.59 L189.5,552.46 L190,551.36 L190.5,550.29 L191,549.27 L191.5,548.29 L192,547.37 L192.5,546.49 L193,545.68 L193.5,544.92 L194,544.23 L194.5,543.61 L195,543.06 L195.5,542.58 L196,542.18 L196.5,541.85 L197,541.61 L197.5,541.45 L198,541.36 L198.5,541.36 L199,541.45 L199.5,541.6 L200,541.84 L200.5,542.16 L201,542.55 L201.5,543.01 L202,543.55 L202.5,544.15 L203,544.83 L203.5,545.56 L204,546.36 L204.5,547.22 L205,548.13 L205.5,549.09 L206,550.09 L206.5,551.14 L207,552.23 L207.5,553.36 L208,554.51 L208.5,555.7 L209,556.91 L209.5,558.13 L210,559.38 L210.5,560.64 L211,561.9 L211.5,563.17 L212,564.45 L212.5,565.72 L213,566.99 L213.5,568.26 L214,569.51 L214.5,570.75 L215,571.98 L215.5,573.19 L216,574.38 L216.5,575.55 L217,576.7 L217.5,577.82 L218,578.92 L218.5,579.99 L219,581.03 L219.5,582.04 L220,583.02 L220.5,583.98 L221,584.9 L221.5,585.78 L222,586.64 L222.5,587.47 L223,588.26 L223.5,589.02 L224,589.75 L224.5,590.45 L225,591.12 L225.5,591.76 L226,592.37 L226.5,592.95 L227,593.5 L227.5,594.03 L228,594.52 L228.5,595 L229,595.45 L229.5,595.87 L230,596.27 L230.5,596.65 L231,597.01 L231.5,597.35 L232,597.67 L232.5,597.97 L233,598.25 L233.5,598.52 L234,598.77 L234.5,599.01 L235,599.23 L235.5,599.44 L236,599.64 L236.5,599.82 L237,600 L237.5,600.16 L238,600.32 L238.5,600.46 L239,600.6 L239.5,600.73 L240,600.85 L240.5,600.97 L241,601.08 L241.5,601.18 L242,601.27 L242.5,601.37 L243,601.45 L243.5,601.53 L244,601.61 L244.5,601.68 L245,601.75 L245.5,601.81 L246,601.88 L246.5,601.93 L247,601.99 L247.5,602.04 L248,602.09 L248.5,602.14 L249,602.18 L249.5,602.22 L250,602.26 L250.5,602.3 L251,602.34 L251.5,602.37 L252,602.4 L252.5,602.43 L253,602.46 L253.5,602.49 L254,602.52 L254.5,602.54 L255,602.57 L255.5,602.59 L256,602.61 L256.5,602.63 L257,602.65 L257.5,602.67 L258,602.68 L258.5,602.7 L259,602.72 L259.5,602.73 L260,602.75 L260.5,602.76 L261,602.77 L261.5,602.78 L262,602.8 L262.5,602.81 L263,602.82 L263.5,602.83 L264,602.84 L264.5,602.85 L265,602.85 L265.5,602.86 L266,602.87 L266.5,602.88 L267,602.89 L267.5,602.89 L268,602.9 L268.5,602.91 L269,602.91 L269.5,602.92 L270,602.92 L270.5,602.93 L271,602.93 L271.5,602.94 L272,602.94 L272.5,602.95 L273,602.95 L273.5,602.96 L274,602.96 L274.5,602.97 L275,602.97 L275.5,602.98 L276,602.98 L276.5,602.98 L277,602.99 L277.5,602.99 L278,602.99 L278.5,603 L279,603 L279.5,603 L280,603.01 L280.5,603.01 L281,603.01 L281.5,603.02 L282,603.02 L282.5,603.02 L283,603.03 L283.5,603.03 L284,603.03 L284.5,603.03 L285,603.04 L285.5,603.04 L286,603.04 L286.5,603.04 L287,603.05 L287.5,603.05 L288,603.05 L288.5,603.05 L289,603.06 L289.5,603.06 L290,603.06 L290.5,603.06 L291,603.07 L291.5,603.07 L292,603.07 L292.5,603.07 L293,603.07 L293.5,603.08 L294,603.08 L294.5,603.08 L295,603.08 L295.5,603.08 L296,603.09 L296.5,603.09 L297,603.09 L297.5,603.09 L298,603.09 L298.5,603.1 L299,603.1 L299.5,603.1 L300,603.1 L300.5,603.1 L301,603.1 L301.5,603.11 L302,603.11 L302.5,603.11 L303,603.11 L303.5,603.11 L304,603.11 L304.5,603.11 L305,603.12 L305.5,603.12 L306,603.12 L306.5,603.12 L307,603.12 L307.5,603.12 L308,603.12 L308.5,603.13 L309,603.13 L309.5,603.13 L310,603.13 L310.5,603.13 L311,603.13 L311.5,603.13 L312,603.13 L312.5,603.14 L313,603.14 L313.5,603.14 L314,603.14 L314.5,603.14 L315,603.14 L315.5,603.14 L316,603.14 L316.5,603.14 L317,603.15 L317.5,603.15 L318,603.15 L318.5,603.15 L319,603.15 L319.5,603.15 L320,603.15 L320.5,603.15 L321,603.15 L321.5,603.16 L322,603.16 L322.5,603.16 L323,603.16 L323.5,603.16 L324,603.16 L324.5,603.16 L325,603.16 L325.5,603.16 L326,603.16 L326.5,603.16 L327,603.17 L327.5,603.17 L328,603.17 L328.5,603.17 L329,603.17 L329.5,603.17 L330,603.17 L330.5,603.17 L331,603.17 L331.5,603.17 L332,603.17 L332.5,603.17 L333,603.17" fill="none" stroke="#128a26" stroke-width="1.7" stroke-linejoin="round"/>
<path d="M114,598.87 L114.5,598.87 L115,598.87 L115.5,598.87 L116,598.87 L116.5,598.87 L117,598.87 L117.5,598.87 L118,598.88 L118.5,598.88 L119,598.88 L119.5,598.88 L120,598.88 L120.5,598.88 L121,598.88 L121.5,598.88 L122,598.88 L122.5,598.88 L123,598.88 L123.5,598.88 L124,598.88 L124.5,598.88 L125,598.88 L125.5,598.88 L126,598.88 L126.5,598.88 L127,598.88 L127.5,598.88 L128,598.88 L128.5,598.88 L129,598.88 L129.5,598.88 L130,598.88 L130.5,598.88 L131,598.88 L131.5,598.88 L132,598.88 L132.5,598.88 L133,598.88 L133.5,598.88 L134,598.88 L134.5,598.88 L135,598.88 L135.5,598.88 L136,598.88 L136.5,598.88 L137,598.88 L137.5,598.88 L138,598.88 L138.5,598.88 L139,598.88 L139.5,598.88 L140,598.88 L140.5,598.88 L141,598.89 L141.5,598.89 L142,598.89 L142.5,598.89 L143,598.89 L143.5,598.89 L144,598.89 L144.5,598.89 L145,598.89 L145.5,598.89 L146,598.89 L146.5,598.89 L147,598.89 L147.5,598.89 L148,598.89 L148.5,598.89 L149,598.89 L149.5,598.89 L150,598.89 L150.5,598.89 L151,598.89 L151.5,598.89 L152,598.89 L152.5,598.89 L153,598.89 L153.5,598.89 L154,598.9 L154.5,598.9 L155,598.9 L155.5,598.9 L156,598.9 L156.5,598.9 L157,598.9 L157.5,598.9 L158,598.9 L158.5,598.9 L159,598.9 L159.5,598.9 L160,598.9 L160.5,598.9 L161,598.91 L161.5,598.91 L162,598.91 L162.5,598.91 L163,598.91 L163.5,598.91 L164,598.91 L164.5,598.91 L165,598.92 L165.5,598.92 L166,598.92 L166.5,598.92 L167,598.92 L167.5,598.93 L168,598.93 L168.5,598.93 L169,598.93 L169.5,598.94 L170,598.94 L170.5,598.94 L171,598.95 L171.5,598.95 L172,598.96 L172.5,598.96 L173,598.96 L173.5,598.97 L174,598.97 L174.5,598.98 L175,598.99 L175.5,598.99 L176,599 L176.5,599.01 L177,599.01 L177.5,599.02 L178,599.03 L178.5,599.04 L179,599.05 L179.5,599.06 L180,599.07 L180.5,599.08 L181,599.09 L181.5,599.1 L182,599.11 L182.5,599.12 L183,599.13 L183.5,599.15 L184,599.16 L184.5,599.18 L185,599.19 L185.5,599.21 L186,599.22 L186.5,599.24 L187,599.26 L187.5,599.27 L188,599.29 L188.5,599.31 L189,599.33 L189.5,599.35 L190,599.37 L190.5,599.39 L191,599.41 L191.5,599.43 L192,599.45 L192.5,599.47 L193,599.5 L193.5,599.52 L194,599.54 L194.5,599.57 L195,599.59 L195.5,599.61 L196,599.64 L196.5,599.66 L197,599.69 L197.5,599.71 L198,599.74 L198.5,599.76 L199,599.79 L199.5,599.81 L200,599.84 L200.5,599.86 L201,599.89 L201.5,599.91 L202,599.94 L202.5,599.97 L203,599.99 L203.5,600.02 L204,600.04 L204.5,600.07 L205,600.09 L205.5,600.11 L206,600.14 L206.5,600.16 L207,600.19 L207.5,600.21 L208,600.23 L208.5,600.26 L209,600.28 L209.5,600.31 L210,600.33 L210.5,600.35 L211,600.38 L211.5,600.4 L212,600.42 L212.5,600.45 L213,600.47 L213.5,600.49 L214,600.51 L214.5,600.54 L215,600.56 L215.5,600.59 L216,600.61 L216.5,600.63 L217,600.66 L217.5,600.68 L218,600.71 L218.5,600.73 L219,600.76 L219.5,600.78 L220,600.81 L220.5,600.84 L221,600.86 L221.5,600.89 L222,600.92 L222.5,600.95 L223,600.98 L223.5,601.01 L224,601.04 L224.5,601.07 L225,601.1 L225.5,601.13 L226,601.16 L226.5,601.2 L227,601.23 L227.5,601.26 L228,601.3 L228.5,601.33 L229,601.37 L229.5,601.4 L230,601.44 L230.5,601.48 L231,601.52 L231.5,601.55 L232,601.59 L232.5,601.63 L233,601.67 L233.5,601.71 L234,601.75 L234.5,601.79 L235,601.83 L235.5,601.87 L236,601.91 L236.5,601.95 L237,601.99 L237.5,602.03 L238,602.07 L238.5,602.11 L239,602.15 L239.5,602.18 L240,602.22 L240.5,602.26 L241,602.3 L241.5,602.34 L242,602.37 L242.5,602.41 L243,602.44 L243.5,602.48 L244,602.51 L244.5,602.54 L245,602.58 L245.5,602.61 L246,602.64 L246.5,602.67 L247,602.7 L247.5,602.72 L248,602.75 L248.5,602.78 L249,602.8 L249.5,602.82 L250,602.85 L250.5,602.87 L251,602.89 L251.5,602.91 L252,602.93 L252.5,602.95 L253,602.97 L253.5,602.98 L254,603 L254.5,603.01 L255,603.03 L255.5,603.04 L256,603.05 L256.5,603.07 L257,603.08 L257.5,603.09 L258,603.1 L258.5,603.11 L259,603.12 L259.5,603.12 L260,603.13 L260.5,603.14 L261,603.15 L261.5,603.15 L262,603.16 L262.5,603.16 L263,603.17 L263.5,603.17 L264,603.18 L264.5,603.18 L265,603.19 L265.5,603.19 L266,603.19 L266.5,603.2 L267,603.2 L267.5,603.2 L268,603.2 L268.5,603.21 L269,603.21 L269.5,603.21 L270,603.21 L270.5,603.21 L271,603.22 L271.5,603.22 L272,603.22 L272.5,603.22 L273,603.22 L273.5,603.22 L274,603.22 L274.5,603.22 L275,603.23 L275.5,603.23 L276,603.23 L276.5,603.23 L277,603.23 L277.5,603.23 L278,603.23 L278.5,603.23 L279,603.23 L279.5,603.23 L280,603.23 L280.5,603.23 L281,603.23 L281.5,603.23 L282,603.23 L282.5,603.24 L283,603.24 L283.5,603.24 L284,603.24 L284.5,603.24 L285,603.24 L285.5,603.24 L286,603.24 L286.5,603.24 L287,603.24 L287.5,603.24 L288,603.24 L288.5,603.24 L289,603.24 L289.5,603.24 L290,603.24 L290.5,603.24 L291,603.24 L291.5,603.24 L292,603.24 L292.5,603.24 L293,603.24 L293.5,603.24 L294,603.24 L294.5,603.24 L295,603.24 L295.5,603.25 L296,603.25 L296.5,603.25 L297,603.25 L297.5,603.25 L298,603.25 L298.5,603.25 L299,603.25 L299.5,603.25 L300,603.25 L300.5,603.25 L301,603.25 L301.5,603.25 L302,603.25 L302.5,603.25 L303,603.25 L303.5,603.25 L304,603.25 L304.5,603.25 L305,603.25 L305.5,603.25 L306,603.25 L306.5,603.25 L307,603.25 L307.5,603.25 L308,603.25 L308.5,603.25 L309,603.25 L309.5,603.25 L310,603.25 L310.5,603.25 L311,603.25 L311.5,603.25 L312,603.25 L312.5,603.25 L313,603.25 L313.5,603.25 L314,603.25 L314.5,603.25 L315,603.25 L315.5,603.25 L316,603.25 L316.5,603.25 L317,603.25 L317.5,603.26 L318,603.26 L318.5,603.26 L319,603.26 L319.5,603.26 L320,603.26 L320.5,603.26 L321,603.26 L321.5,603.26 L322,603.26 L322.5,603.26 L323,603.26 L323.5,603.26 L324,603.26 L324.5,603.26 L325,603.26 L325.5,603.26 L326,603.26 L326.5,603.26 L327,603.26 L327.5,603.26 L328,603.26 L328.5,603.26 L329,603.26 L329.5,603.26 L330,603.26 L330.5,603.26 L331,603.26 L331.5,603.26 L332,603.26 L332.5,603.26 L333,603.26" fill="none" stroke="#8c8c8c" stroke-width="1.5"/>
<path d="M114,598.5 L114.5,598.49 L115,598.49 L115.5,598.49 L116,598.48 L116.5,598.48 L117,598.47 L117.5,598.47 L118,598.47 L118.5,598.46 L119,598.46 L119.5,598.45 L120,598.45 L120.5,598.45 L121,598.44 L121.5,598.44 L122,598.43 L122.5,598.43 L123,598.42 L123.5,598.42 L124,598.41 L124.5,598.41 L125,598.4 L125.5,598.4 L126,598.39 L126.5,598.39 L127,598.38 L127.5,598.38 L128,598.37 L128.5,598.37 L129,598.36 L129.5,598.35 L130,598.35 L130.5,598.34 L131,598.34 L131.5,598.33 L132,598.32 L132.5,598.32 L133,598.31 L133.5,598.3 L134,598.29 L134.5,598.29 L135,598.28 L135.5,598.27 L136,598.26 L136.5,598.26 L137,598.25 L137.5,598.24 L138,598.23 L138.5,598.22 L139,598.21 L139.5,598.2 L140,598.19 L140.5,598.18 L141,598.17 L141.5,598.16 L142,598.15 L142.5,598.14 L143,598.13 L143.5,598.12 L144,598.1 L144.5,598.09 L145,598.08 L145.5,598.06 L146,598.04 L146.5,598.03 L147,598.01 L147.5,597.99 L148,597.97 L148.5,597.95 L149,597.93 L149.5,597.91 L150,597.88 L150.5,597.85 L151,597.82 L151.5,597.79 L152,597.76 L152.5,597.72 L153,597.68 L153.5,597.64 L154,597.59 L154.5,597.54 L155,597.49 L155.5,597.43 L156,597.37 L156.5,597.3 L157,597.23 L157.5,597.15 L158,597.06 L158.5,596.96 L159,596.86 L159.5,596.75 L160,596.63 L160.5,596.5 L161,596.36 L161.5,596.21 L162,596.04 L162.5,595.87 L163,595.68 L163.5,595.47 L164,595.25 L164.5,595.01 L165,594.76 L165.5,594.48 L166,594.19 L166.5,593.88 L167,593.54 L167.5,593.19 L168,592.81 L168.5,592.4 L169,591.97 L169.5,591.51 L170,591.03 L170.5,590.52 L171,589.97 L171.5,589.4 L172,588.8 L172.5,588.17 L173,587.5 L173.5,586.8 L174,586.07 L174.5,585.3 L175,584.51 L175.5,583.67 L176,582.81 L176.5,581.91 L177,580.97 L177.5,580.01 L178,579.01 L178.5,577.98 L179,576.92 L179.5,575.83 L180,574.72 L180.5,573.57 L181,572.4 L181.5,571.21 L182,570 L182.5,568.77 L183,567.52 L183.5,566.25 L184,564.98 L184.5,563.7 L185,562.41 L185.5,561.12 L186,559.82 L186.5,558.54 L187,557.26 L187.5,555.99 L188,554.73 L188.5,553.49 L189,552.28 L189.5,551.09 L190,549.93 L190.5,548.8 L191,547.71 L191.5,546.66 L192,545.65 L192.5,544.69 L193,543.77 L193.5,542.92 L194,542.11 L194.5,541.37 L195,540.68 L195.5,540.06 L196,539.5 L196.5,539.01 L197,538.58 L197.5,538.22 L198,537.92 L198.5,537.69 L199,537.52 L199.5,537.41 L200,537.36 L200.5,537.37 L201,537.42 L201.5,537.53 L202,537.68 L202.5,537.87 L203,538.1 L203.5,538.37 L204,538.66 L204.5,538.98 L205,539.31 L205.5,539.67 L206,540.03 L206.5,540.39 L207,540.75 L207.5,541.11 L208,541.45 L208.5,541.78 L209,542.08 L209.5,542.36 L210,542.61 L210.5,542.82 L211,542.98 L211.5,543.11 L212,543.18 L212.5,543.21 L213,543.18 L213.5,543.09 L214,542.94 L214.5,542.72 L215,542.44 L215.5,542.1 L216,541.68 L216.5,541.2 L217,540.65 L217.5,540.04 L218,539.35 L218.5,538.6 L219,537.78 L219.5,536.9 L220,535.96 L220.5,534.96 L221,533.9 L221.5,532.79 L222,531.64 L222.5,530.44 L223,529.2 L223.5,527.93 L224,526.63 L224.5,525.31 L225,523.97 L225.5,522.61 L226,521.26 L226.5,519.9 L227,518.55 L227.5,517.22 L228,515.91 L228.5,514.63 L229,513.38 L229.5,512.18 L230,511.02 L230.5,509.92 L231,508.89 L231.5,507.92 L232,507.03 L232.5,506.22 L233,505.49 L233.5,504.86 L234,504.33 L234.5,503.89 L235,503.56 L235.5,503.34 L236,503.24 L236.5,503.24 L237,503.36 L237.5,503.62 L238,504.02 L238.5,504.58 L239,505.29 L239.5,506.14 L240,507.14 L240.5,508.27 L241,509.54 L241.5,510.93 L242,512.45 L242.5,514.07 L243,515.8 L243.5,517.63 L244,519.55 L244.5,521.55 L245,523.62 L245.5,525.76 L246,527.95 L246.5,530.18 L247,532.46 L247.5,534.77 L248,537.09 L248.5,539.44 L249,541.78 L249.5,544.13 L250,546.47 L250.5,548.8 L251,551.1 L251.5,553.37 L252,555.62 L252.5,557.82 L253,559.99 L253.5,562.1 L254,564.17 L254.5,566.18 L255,568.13 L255.5,570.03 L256,571.86 L256.5,573.63 L257,575.33 L257.5,576.97 L258,578.54 L258.5,580.04 L259,581.48 L259.5,582.85 L260,584.15 L260.5,585.39 L261,586.56 L261.5,587.67 L262,588.72 L262.5,589.71 L263,590.64 L263.5,591.51 L264,592.33 L264.5,593.1 L265,593.82 L265.5,594.49 L266,595.11 L266.5,595.69 L267,596.23 L267.5,596.73 L268,597.2 L268.5,597.63 L269,598.02 L269.5,598.39 L270,598.72 L270.5,599.03 L271,599.32 L271.5,599.58 L272,599.82 L272.5,600.04 L273,600.24 L273.5,600.42 L274,600.59 L274.5,600.75 L275,600.89 L275.5,601.01 L276,601.13 L276.5,601.24 L277,601.34 L277.5,601.43 L278,601.51 L278.5,601.58 L279,601.65 L279.5,601.72 L280,601.77 L280.5,601.83 L281,601.88 L281.5,601.92 L282,601.96 L282.5,602 L283,602.04 L283.5,602.07 L284,602.1 L284.5,602.13 L285,602.16 L285.5,602.18 L286,602.21 L286.5,602.23 L287,602.25 L287.5,602.27 L288,602.29 L288.5,602.31 L289,602.33 L289.5,602.35 L290,602.36 L290.5,602.38 L291,602.39 L291.5,602.41 L292,602.42 L292.5,602.44 L293,602.45 L293.5,602.46 L294,602.48 L294.5,602.49 L295,602.5 L295.5,602.51 L296,602.52 L296.5,602.53 L297,602.54 L297.5,602.55 L298,602.56 L298.5,602.57 L299,602.58 L299.5,602.59 L300,602.6 L300.5,602.61 L301,602.62 L301.5,602.63 L302,602.64 L302.5,602.65 L303,602.65 L303.5,602.66 L304,602.67 L304.5,602.68 L305,602.69 L305.5,602.69 L306,602.7 L306.5,602.71 L307,602.71 L307.5,602.72 L308,602.73 L308.5,602.74 L309,602.74 L309.5,602.75 L310,602.75 L310.5,602.76 L311,602.77 L311.5,602.77 L312,602.78 L312.5,602.78 L313,602.79 L313.5,602.8 L314,602.8 L314.5,602.81 L315,602.81 L315.5,602.82 L316,602.82 L316.5,602.83 L317,602.83 L317.5,602.84 L318,602.84 L318.5,602.85 L319,602.85 L319.5,602.85 L320,602.86 L320.5,602.86 L321,602.87 L321.5,602.87 L322,602.88 L322.5,602.88 L323,602.88 L323.5,602.89 L324,602.89 L324.5,602.9 L325,602.9 L325.5,602.9 L326,602.91 L326.5,602.91 L327,602.91 L327.5,602.92 L328,602.92 L328.5,602.93 L329,602.93 L329.5,602.93 L330,602.94 L330.5,602.94 L331,602.94 L331.5,602.94 L332,602.95 L332.5,602.95 L333,602.95" fill="none" stroke="#f00000" stroke-width="1.95" stroke-linejoin="round"/>
<path d="M58.6,596.3h0M60.17,598.12h0M61.73,598.04h0M63.3,597.71h0M64.87,598.58h0M66.43,597.64h0M68,598.6h0M69.57,598.55h0M71.13,598.83h0M72.7,600.27h0M74.27,598.9h0M75.83,600.58h0M77.4,599.45h0M78.97,598.78h0M80.53,598.38h0M82.1,599.87h0M83.67,598.1h0M85.23,598.29h0M86.8,597.76h0M88.37,599.18h0M89.93,600.35h0M91.5,599.93h0M93.07,599.47h0M94.63,598.88h0M96.2,599.04h0M97.77,597.51h0M99.33,599.66h0M100.9,598.27h0M102.47,597.64h0M104.03,598.39h0M105.6,598.77h0M107.17,600.48h0M108.73,600.83h0M110.3,598.95h0M111.87,600.51h0M113.43,600.53h0M115,599.28h0M116.57,597.84h0M118.13,597.3h0M119.7,597.1h0M121.27,597.25h0M122.83,596.48h0M124.4,594.58h0M125.97,595.84h0M127.53,594.61h0M129.1,596.58h0M130.67,594.25h0M132.23,594.25h0M133.8,593.15h0M135.37,592.84h0M136.93,594.06h0M138.5,592.67h0M140.07,591.91h0M141.63,591.25h0M143.2,589.96h0M144.77,590.93h0M146.33,591.12h0M147.9,590.65h0M149.47,592.15h0M151.03,591.82h0M152.6,592.16h0M154.17,591.39h0M155.73,590.27h0M157.3,592.12h0M158.87,591.99h0M160.43,589.68h0M162,587.44h0M163.57,584.91h0M165.13,586.28h0M166.7,586.2h0M168.27,583.92h0M169.83,583.01h0M171.4,582.05h0M172.97,580.75h0M174.53,578.15h0M176.1,577.26h0M177.67,575.32h0M179.23,570.44h0M180.8,568.67h0M182.37,566.92h0M183.93,565.94h0M185.5,564.81h0M187.07,561.26h0M188.63,557.6h0M190.2,554.32h0M191.77,551.32h0M193.33,549.51h0M194.9,545.93h0M196.47,546.02h0M198.03,546.28h0M199.6,545.43h0M201.17,543.26h0M202.73,543.65h0M204.3,543.85h0M205.87,545.12h0M207.43,546.05h0M209,545.92h0M210.57,545.05h0M212.13,546.46h0M213.7,545.22h0M215.27,544.67h0M216.83,540.93h0M218.4,538.69h0M219.97,534.12h0M221.53,528.59h0M223.1,524.75h0M224.67,521.56h0M226.23,515.76h0M227.8,512.29h0M229.37,509.58h0M230.93,506.71h0M232.5,502.47h0M234.07,498.84h0M235.63,498.45h0M237.2,501.55h0M238.77,505.45h0M240.33,510.8h0M241.9,511.49h0M243.47,517.86h0M245.03,523.72h0M246.6,528.73h0M248.17,536.49h0M249.73,544.8h0M251.3,551.6h0M252.87,558.08h0M254.43,565.44h0M256,570.31h0M257.57,576.35h0M259.13,579.99h0M260.7,584.19h0M262.27,588.66h0M263.83,590.99h0M265.4,594.07h0M266.97,596.42h0M268.53,597.23h0M270.1,598.41h0M271.67,599.76h0M273.23,598.93h0M274.8,600.64h0M276.37,599.11h0M277.93,601.32h0M279.5,600.42h0M281.07,600.63h0M282.63,602.57h0M284.2,600.34h0M285.77,602.74h0M287.33,601.64h0M288.9,602.05h0M290.47,600.08h0M292.03,601.93h0M293.6,602.51h0M295.17,602.08h0M296.73,602.71h0M298.3,605.54h0M299.87,604.6h0M301.43,604.57h0M303,604.31h0M304.57,604.86h0M306.13,604.96h0M307.7,604.72h0M309.27,605.98h0M310.83,603.63h0M312.4,603.83h0M313.97,604.65h0M315.53,602.55h0M317.1,603.56h0M318.67,604.21h0M320.23,601.52h0M321.8,602.41h0M323.37,602.21h0M324.93,601.13h0M326.5,603.38h0M328.07,601.83h0M329.63,603.52h0M331.2,603.63h0M332.77,600.9h0M334.33,602.27h0M335.9,601.39h0M337.47,603.24h0" stroke="#000" stroke-width="4.6" stroke-linecap="round" fill="none"/>
<text transform="translate(241.3,132.4) rotate(-90)" font-size="13.6" font-weight="bold" fill="#128a26">PS<tspan font-size="9" dy="3.6">4</tspan><tspan font-size="9" dx="0.6" dy="-9.8">3-</tspan></text>
<text transform="translate(283.2,396.6) rotate(-90)" font-size="14.4" fill="#f79d4a">Li<tspan font-size="9.5" dy="3">2</tspan><tspan dy="-3">S, S</tspan><tspan font-size="9.5" dy="3">x</tspan><tspan font-size="9.5" dx="0.3" dy="-10.6">2-</tspan></text>
<rect x="58.0" y="2.25" width="282.0" height="157.15" fill="none" stroke="#000" stroke-width="1.9"/>
<path d="M58.0,148.9h4.8M340.0,148.9h-4.8M58.0,116.33h4.8M340.0,116.33h-4.8M58.0,83.75h4.8M340.0,83.75h-4.8M58.0,51.17h4.8M340.0,51.17h-4.8M58.0,18.6h4.8M340.0,18.6h-4.8M58.0,132.61h2.6M340.0,132.61h-2.6M58.0,100.04h2.6M340.0,100.04h-2.6M58.0,67.46h2.6M340.0,67.46h-2.6M58.0,34.89h2.6M340.0,34.89h-2.6M89.33,2.25v4.8M89.33,159.4v-4.8M152,2.25v4.8M152,159.4v-4.8M214.67,2.25v4.8M214.67,159.4v-4.8M277.33,2.25v4.8M277.33,159.4v-4.8M120.67,2.25v2.6M120.67,159.4v-2.6M183.33,2.25v2.6M183.33,159.4v-2.6M246,2.25v2.6M246,159.4v-2.6M308.67,2.25v2.6M308.67,159.4v-2.6" stroke="#000" stroke-width="1.5" fill="none"/>
<text x="51.6" y="151.7" font-size="11" text-anchor="end" fill="#222">500</text>
<text x="51.6" y="119.12" font-size="11" text-anchor="end" fill="#222">1000</text>
<text x="51.6" y="86.55" font-size="11" text-anchor="end" fill="#222">1500</text>
<text x="51.6" y="53.98" font-size="11" text-anchor="end" fill="#222">2000</text>
<text x="51.6" y="21.4" font-size="11" text-anchor="end" fill="#222">2500</text>
<text transform="translate(12.0,75.62) rotate(-90)" font-size="13.9" font-weight="bold" text-anchor="middle">Intensity / cps</text>
<text x="75.7" y="48.6" font-size="13.8" fill="#111">as-received</text>
<text x="314.4" y="18.700000000000003" font-size="14" fill="#222">(a)</text>
<rect x="58.0" y="159.4" width="282.0" height="156.6" fill="none" stroke="#000" stroke-width="1.9"/>
<path d="M58.0,291.4h4.8M340.0,291.4h-4.8M58.0,261.38h4.8M340.0,261.38h-4.8M58.0,231.35h4.8M340.0,231.35h-4.8M58.0,201.32h4.8M340.0,201.32h-4.8M58.0,171.3h4.8M340.0,171.3h-4.8M58.0,306.41h2.6M340.0,306.41h-2.6M58.0,276.39h2.6M340.0,276.39h-2.6M58.0,246.36h2.6M340.0,246.36h-2.6M58.0,216.34h2.6M340.0,216.34h-2.6M58.0,186.31h2.6M340.0,186.31h-2.6M89.33,159.4v4.8M89.33,316.0v-4.8M152,159.4v4.8M152,316.0v-4.8M214.67,159.4v4.8M214.67,316.0v-4.8M277.33,159.4v4.8M277.33,316.0v-4.8M120.67,159.4v2.6M120.67,316.0v-2.6M183.33,159.4v2.6M183.33,316.0v-2.6M246,159.4v2.6M246,316.0v-2.6M308.67,159.4v2.6M308.67,316.0v-2.6" stroke="#000" stroke-width="1.5" fill="none"/>
<text x="51.6" y="295.35" font-size="11" text-anchor="end" fill="#222">250</text>
<text x="51.6" y="265.32" font-size="11" text-anchor="end" fill="#222">500</text>
<text x="51.6" y="235.3" font-size="11" text-anchor="end" fill="#222">750</text>
<text x="51.6" y="205.27" font-size="11" text-anchor="end" fill="#222">1000</text>
<text x="51.6" y="175.25" font-size="11" text-anchor="end" fill="#222">1250</text>
<text transform="translate(12.0,232.5) rotate(-90)" font-size="13.9" font-weight="bold" text-anchor="middle">Intensity / cps</text>
<text x="82.8" y="194.0" font-size="13.8" fill="#111">dispersed</text>
<text x="314.4" y="180.29999999999998" font-size="14" fill="#222">(b)</text>
<rect x="58.0" y="316.0" width="282.0" height="156.5" fill="none" stroke="#000" stroke-width="1.9"/>
<path d="M58.0,450h4.8M340.0,450h-4.8M58.0,426.9h4.8M340.0,426.9h-4.8M58.0,403.8h4.8M340.0,403.8h-4.8M58.0,380.7h4.8M340.0,380.7h-4.8M58.0,357.6h4.8M340.0,357.6h-4.8M58.0,334.5h4.8M340.0,334.5h-4.8M58.0,461.55h2.6M340.0,461.55h-2.6M58.0,438.45h2.6M340.0,438.45h-2.6M58.0,415.35h2.6M340.0,415.35h-2.6M58.0,392.25h2.6M340.0,392.25h-2.6M58.0,369.15h2.6M340.0,369.15h-2.6M58.0,346.05h2.6M340.0,346.05h-2.6M58.0,322.95h2.6M340.0,322.95h-2.6M89.33,316.0v4.8M89.33,472.5v-4.8M152,316.0v4.8M152,472.5v-4.8M214.67,316.0v4.8M214.67,472.5v-4.8M277.33,316.0v4.8M277.33,472.5v-4.8M120.67,316.0v2.6M120.67,472.5v-2.6M183.33,316.0v2.6M183.33,472.5v-2.6M246,316.0v2.6M246,472.5v-2.6M308.67,316.0v2.6M308.67,472.5v-2.6" stroke="#000" stroke-width="1.5" fill="none"/>
<text x="51.6" y="453.95" font-size="11" text-anchor="end" fill="#222">500</text>
<text x="51.6" y="430.85" font-size="11" text-anchor="end" fill="#222">1000</text>
<text x="51.6" y="407.75" font-size="11" text-anchor="end" fill="#222">1500</text>
<text x="51.6" y="384.65" font-size="11" text-anchor="end" fill="#222">2000</text>
<text x="51.6" y="361.55" font-size="11" text-anchor="end" fill="#222">2500</text>
<text x="51.6" y="338.45" font-size="11" text-anchor="end" fill="#222">3000</text>
<text transform="translate(12.0,389.05) rotate(-90)" font-size="13.9" font-weight="bold" text-anchor="middle">Intensity / cps</text>
<text x="96.0" y="352.7" font-size="13.8" fill="#111">48 h</text>
<text x="314.4" y="343.30000000000007" font-size="14" fill="#222">(c)</text>
<rect x="58.0" y="472.5" width="282.0" height="156.20000000000005" fill="none" stroke="#000" stroke-width="1.9"/>
<path d="M58.0,601.2h4.8M340.0,601.2h-4.8M58.0,570.5h4.8M340.0,570.5h-4.8M58.0,539.8h4.8M340.0,539.8h-4.8M58.0,509.1h4.8M340.0,509.1h-4.8M58.0,478.4h4.8M340.0,478.4h-4.8M58.0,616.55h2.6M340.0,616.55h-2.6M58.0,585.85h2.6M340.0,585.85h-2.6M58.0,555.15h2.6M340.0,555.15h-2.6M58.0,524.45h2.6M340.0,524.45h-2.6M58.0,493.75h2.6M340.0,493.75h-2.6M89.33,472.5v4.8M89.33,628.7v-4.8M152,472.5v4.8M152,628.7v-4.8M214.67,472.5v4.8M214.67,628.7v-4.8M277.33,472.5v4.8M277.33,628.7v-4.8M120.67,472.5v2.6M120.67,628.7v-2.6M183.33,472.5v2.6M183.33,628.7v-2.6M246,472.5v2.6M246,628.7v-2.6M308.67,472.5v2.6M308.67,628.7v-2.6" stroke="#000" stroke-width="1.5" fill="none"/>
<text x="51.6" y="604.45" font-size="11" text-anchor="end" fill="#222">500</text>
<text x="51.6" y="573.75" font-size="11" text-anchor="end" fill="#222">1000</text>
<text x="51.6" y="543.05" font-size="11" text-anchor="end" fill="#222">1500</text>
<text x="51.6" y="512.35" font-size="11" text-anchor="end" fill="#222">2000</text>
<text x="51.6" y="481.65" font-size="11" text-anchor="end" fill="#222">2500</text>
<text transform="translate(12.0,545.4) rotate(-90)" font-size="13.9" font-weight="bold" text-anchor="middle">Intensity / cps</text>
<text x="93.2" y="506.7" font-size="13.8" fill="#111">sheet</text>
<text x="315.6" y="503.00000000000006" font-size="14" fill="#222">(d)</text>
<text x="92.3" y="31.4" font-size="14.6" font-weight="bold">S2p</text>
<text x="89.33" y="643.9" font-size="11" text-anchor="middle" fill="#222">166</text>
<text x="152" y="643.9" font-size="11" text-anchor="middle" fill="#222">164</text>
<text x="214.67" y="643.9" font-size="11" text-anchor="middle" fill="#222">162</text>
<text x="277.33" y="643.9" font-size="11" text-anchor="middle" fill="#222">160</text>
<text x="340" y="643.9" font-size="11" text-anchor="middle" fill="#222">158</text>
<text x="198.2" y="665" font-size="13.6" font-weight="bold" text-anchor="middle">Binding Energy / eV</text>
</svg></body></html>
